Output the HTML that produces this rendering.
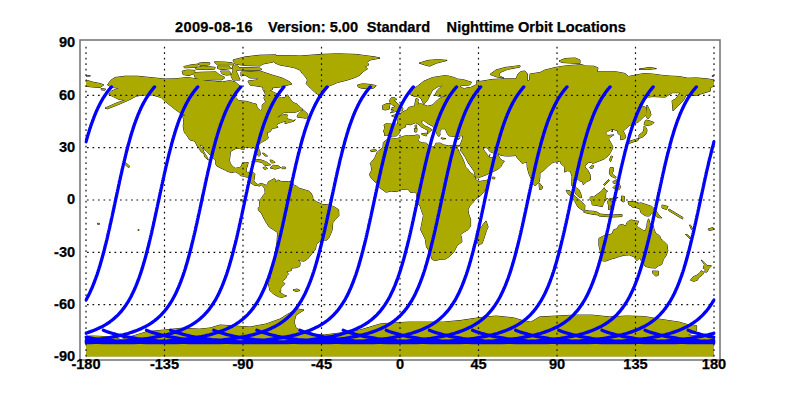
<!DOCTYPE html>
<html><head><meta charset="utf-8"><style>
html,body{margin:0;padding:0;background:#fff;width:800px;height:400px;overflow:hidden}
svg{display:block}
text{font-family:"Liberation Sans",sans-serif;font-weight:bold;font-size:14.6px;fill:#000;stroke:#000;stroke-width:0.25px}
</style></head><body>
<svg width="800" height="400" viewBox="0 0 800 400">
<defs><clipPath id="c"><rect x="84.5" y="43" width="631" height="314"/></clipPath><clipPath id="m"><rect x="86" y="43" width="628" height="313.6"/></clipPath></defs><rect x="0" y="0" width="800" height="400" fill="#fff"/><g clip-path="url(#c)">
<g fill="#aaaa00" clip-path="url(#m)"><path d="M107.5,85.0 L110.5,80.5 L115.0,77.5 L125.0,76.2 L137.5,76.2 L150.0,77.5 L165.0,79.0 L175.0,78.8 L187.5,77.5 L196.2,78.8 L205.0,80.6 L213.8,81.2 L222.5,81.9 L230.0,80.6 L235.0,81.9 L240.0,86.0 L237.5,90.0 L236.0,92.7 L235.7,97.4 L238.6,100.6 L246.5,101.4 L253.5,103.5 L256.4,104.1 L257.0,107.5 L260.4,110.7 L262.2,109.3 L262.2,104.9 L265.7,102.0 L263.9,98.0 L265.7,94.5 L263.9,91.3 L270.9,91.0 L275.3,93.1 L278.8,94.5 L278.8,97.1 L281.4,98.0 L284.9,97.4 L287.5,94.8 L290.1,98.8 L292.7,102.3 L297.1,104.1 L300.6,107.5 L302.8,109.3 L300.6,110.2 L295.3,112.4 L288.4,112.4 L284.0,112.4 L279.6,115.4 L277.0,118.0 L281.4,115.4 L286.6,114.2 L287.5,115.2 L286.6,117.1 L287.5,118.9 L291.8,120.1 L293.6,120.6 L295.3,119.8 L293.6,121.2 L289.2,122.4 L284.9,123.6 L285.7,121.0 L283.1,121.8 L280.5,122.7 L277.5,123.9 L276.7,125.5 L277.9,127.3 L274.4,128.1 L270.9,129.2 L270.9,131.1 L269.2,132.0 L267.4,132.3 L267.4,135.5 L268.3,138.1 L266.6,139.5 L263.9,141.0 L261.3,142.4 L258.7,144.2 L258.2,147.7 L259.6,150.6 L260.4,153.8 L259.6,156.0 L258.4,156.0 L257.3,153.8 L255.9,151.2 L255.6,149.1 L253.5,147.5 L251.2,148.2 L249.1,147.0 L245.6,147.1 L243.9,147.3 L244.2,149.4 L242.1,149.2 L239.5,148.4 L236.0,148.4 L233.4,149.8 L230.4,151.5 L230.1,155.0 L229.4,160.8 L230.4,163.7 L232.5,166.5 L235.2,168.3 L239.5,167.6 L241.6,166.0 L242.3,163.4 L245.6,162.5 L248.2,162.5 L247.4,166.0 L246.5,168.1 L246.0,171.2 L247.4,172.4 L252.6,172.3 L254.9,173.8 L254.3,178.2 L253.8,180.8 L255.2,182.9 L257.8,184.6 L261.3,183.4 L265.0,184.8 L266.6,185.5 L267.8,183.4 L268.3,181.7 L270.9,180.5 L274.4,178.5 L275.8,179.9 L275.3,182.6 L277.9,179.9 L281.4,181.7 L284.9,181.5 L288.4,181.7 L292.2,181.3 L293.6,185.0 L296.2,186.0 L298.8,188.1 L304.1,189.7 L309.3,191.3 L311.0,193.0 L312.8,196.9 L312.8,199.1 L316.3,201.7 L322.4,204.4 L328.5,204.9 L333.7,206.6 L338.6,209.6 L338.9,215.7 L335.5,219.2 L332.8,222.7 L332.0,230.5 L330.2,234.9 L328.5,238.4 L326.7,240.1 L323.2,240.1 L318.9,241.9 L316.3,244.5 L315.4,249.7 L312.8,252.3 L310.2,255.8 L307.5,259.0 L304.1,261.1 L301.4,260.9 L297.9,259.7 L300.2,262.8 L299.7,266.3 L296.2,267.7 L291.8,268.0 L291.3,270.6 L286.6,271.5 L288.4,274.1 L286.6,275.9 L285.7,278.5 L282.2,281.1 L284.9,283.7 L281.4,287.2 L280.5,289.0 L280.9,291.2 L278.8,291.6 L281.0,293.0 L284.0,295.1 L286.6,295.9 L282.2,297.3 L278.8,296.8 L275.3,295.1 L271.8,292.5 L270.0,290.7 L269.2,287.2 L268.3,283.7 L270.0,280.2 L270.9,275.9 L271.8,271.5 L271.8,265.4 L273.5,261.9 L274.9,257.6 L275.3,252.3 L276.1,247.1 L277.0,241.9 L277.5,234.9 L277.4,232.3 L273.5,229.7 L269.2,227.0 L266.9,223.6 L263.9,218.3 L261.3,213.1 L258.4,210.5 L258.2,207.8 L259.9,206.1 L259.6,201.7 L260.4,199.1 L262.2,197.4 L263.1,195.6 L265.2,193.0 L264.8,188.7 L263.4,186.9 L261.3,184.6 L259.6,186.0 L257.0,185.5 L254.3,185.2 L250.3,182.6 L250.3,180.3 L247.4,177.3 L244.7,176.4 L240.4,175.6 L237.8,173.0 L235.2,171.7 L231.7,172.6 L228.2,171.6 L225.6,170.3 L222.1,168.6 L216.8,166.0 L215.6,163.7 L216.0,160.8 L214.2,159.0 L211.6,156.4 L209.0,153.8 L206.4,150.8 L204.1,149.4 L202.9,145.9 L199.7,144.5 L201.1,147.3 L202.9,149.4 L203.8,152.0 L205.5,154.6 L207.2,157.3 L208.3,160.1 L207.2,159.0 L204.6,156.9 L204.1,153.8 L200.8,151.5 L199.4,148.5 L197.6,146.8 L195.9,143.3 L195.0,141.6 L193.3,140.7 L189.6,139.8 L188.1,137.2 L186.3,134.6 L184.6,132.8 L183.7,129.7 L183.2,125.9 L183.7,122.4 L183.7,119.8 L182.5,115.6 L184.6,115.7 L185.4,114.5 L185.0,115.0 L177.5,111.2 L171.2,106.2 L165.0,101.2 L161.2,97.5 L152.5,95.0 L142.5,95.0 L136.2,96.2 L128.8,100.0 L118.8,104.4 L107.5,108.8 L105.0,108.1 L116.2,103.1 L125.0,100.0 L118.8,99.4 L113.8,96.9 L108.8,94.4 L111.2,91.2 L118.8,88.1 L112.5,87.5Z M271.0,55.5 L292.5,55.6 L300.0,56.0 L321.2,54.4 L337.5,53.8 L356.2,54.4 L365.0,55.6 L375.0,56.9 L380.0,58.1 L370.0,60.0 L367.5,62.5 L368.8,65.0 L365.0,66.9 L367.5,68.8 L363.8,71.2 L360.0,75.0 L355.0,77.5 L347.5,80.0 L337.5,82.5 L328.8,86.2 L325.0,91.2 L320.0,95.5 L315.0,92.5 L310.0,87.5 L306.2,83.8 L307.5,80.0 L305.0,76.2 L302.5,73.8 L300.0,70.0 L293.8,67.5 L280.0,65.0 L275.0,63.0 L273.0,60.0Z M241.0,72.0 L244.0,72.0 L260.0,71.0 L272.0,75.0 L282.0,78.0 L290.0,82.0 L292.0,84.0 L286.0,85.5 L280.0,87.0 L270.0,88.0 L263.0,87.0 L250.0,85.0 L248.0,81.0 L256.0,80.0 L258.0,78.0 L250.0,78.0 L245.0,75.0 L241.0,76.0Z M233.0,60.0 L245.0,56.9 L260.0,55.2 L276.0,54.8 L276.0,60.0 L273.0,62.0 L263.0,64.0 L260.0,66.0 L245.0,65.5 L235.0,64.0Z M238.0,67.5 L244.0,67.5 L260.0,68.0 L262.0,69.5 L258.0,70.3 L245.0,70.3 L238.0,70.0Z M303.2,110.0 L307.5,113.7 L308.1,117.1 L305.8,118.4 L303.2,117.8 L297.1,117.0 L297.9,114.5 L300.6,111.9 L303.2,110.0Z M251.7,161.8 L256.1,159.5 L260.4,159.7 L265.7,161.6 L270.6,164.8 L264.8,165.5 L262.2,162.5 L257.8,161.6 L251.7,161.8Z M270.0,167.9 L273.2,165.3 L277.9,165.6 L280.7,167.6 L277.9,168.3 L275.3,169.1 L270.0,167.9Z M263.0,167.5 L266.0,167.0 L267.5,168.5 L264.5,169.4Z M357.5,85.0 L362.5,83.8 L370.0,84.4 L376.2,85.6 L373.8,88.1 L367.5,88.8 L361.2,88.1 L358.1,86.9Z M390.4,112.8 L394.8,111.7 L402.4,110.7 L403.0,108.1 L400.5,107.0 L399.1,104.9 L397.0,103.0 L393.9,100.0 L396.9,99.5 L394.8,97.8 L391.3,97.8 L389.5,100.6 L390.4,103.2 L391.6,104.4 L394.4,105.8 L394.8,107.0 L391.6,107.9 L393.0,109.3 L390.9,109.8 L394.2,110.3 L390.4,112.8Z M389.5,108.9 L389.5,106.1 L390.1,103.7 L386.9,103.5 L382.6,105.5 L382.6,109.3 L385.2,110.0 L389.5,108.9Z M390.2,137.2 L388.7,135.8 L386.9,135.1 L384.5,135.5 L384.6,132.5 L383.4,132.0 L384.6,128.5 L384.5,125.9 L383.8,125.0 L386.0,123.8 L391.3,124.1 L394.8,124.1 L397.4,124.3 L397.9,121.5 L397.9,119.8 L396.2,117.7 L391.6,115.9 L394.8,114.9 L397.4,115.0 L397.4,113.5 L400.3,113.7 L402.8,111.9 L405.2,110.7 L407.5,109.8 L408.4,107.5 L412.2,106.5 L414.8,106.1 L415.0,103.2 L416.0,98.5 L418.3,99.3 L417.8,102.0 L418.8,103.2 L417.1,104.4 L421.2,103.8 L427.5,106.2 L432.5,105.0 L435.0,102.5 L437.5,100.0 L440.0,98.1 L447.5,95.6 L438.8,96.2 L435.0,95.0 L437.5,90.0 L442.5,85.6 L438.8,86.2 L432.5,90.0 L430.0,95.0 L427.5,100.0 L423.8,104.4 L421.2,98.8 L418.8,96.9 L413.8,96.2 L410.0,94.4 L411.2,90.0 L417.5,86.2 L423.8,81.2 L432.5,77.5 L445.0,75.6 L448.8,76.1 L454.1,77.5 L457.6,79.1 L462.8,79.6 L471.5,82.2 L469.8,84.9 L460.2,85.7 L460.7,87.5 L464.5,88.7 L468.0,87.5 L470.6,87.5 L476.8,84.5 L476.8,80.5 L480.2,81.4 L492.5,79.4 L505.0,78.8 L516.0,78.8 L518.0,74.0 L521.0,71.5 L525.0,71.0 L527.5,74.0 L527.5,81.0 L529.5,80.0 L530.0,74.0 L540.0,72.5 L545.0,70.0 L550.0,68.8 L555.0,67.5 L567.5,65.6 L574.4,65.2 L581.9,64.5 L584.9,66.0 L593.6,66.2 L598.0,67.8 L597.1,71.8 L605.8,71.8 L616.3,71.8 L625.0,73.5 L628.5,76.5 L635.5,75.1 L644.2,73.5 L652.9,74.1 L661.7,75.3 L670.4,76.1 L679.1,76.5 L687.8,78.2 L696.6,77.9 L707.0,78.8 L714.0,80.0 L714.0,86.3 L710.5,87.3 L710.5,91.0 L701.8,93.6 L696.6,95.3 L686.1,95.3 L684.3,98.8 L682.6,101.4 L673.0,111.0 L672.1,100.6 L675.6,99.2 L680.0,92.7 L672.1,92.7 L665.2,97.1 L652.9,96.6 L647.7,97.1 L639.0,104.9 L646.0,107.5 L646.0,114.5 L644.2,116.3 L639.0,121.5 L632.0,125.0 L629.9,125.0 L625.9,128.5 L623.3,131.1 L625.7,136.3 L625.0,138.6 L620.7,139.8 L620.7,135.5 L618.1,133.7 L617.5,130.6 L612.8,129.3 L612.0,132.0 L612.5,128.8 L607.6,131.4 L605.3,132.8 L607.6,135.5 L613.7,134.9 L610.2,137.2 L608.5,138.9 L611.1,143.3 L612.6,146.3 L612.8,148.0 L610.2,152.9 L608.5,155.5 L604.1,159.0 L598.9,161.1 L592.8,163.4 L591.5,162.5 L588.4,162.5 L585.8,165.1 L584.9,166.9 L588.1,170.7 L590.1,174.7 L590.5,179.9 L586.7,181.7 L583.2,184.8 L582.8,182.0 L579.7,180.8 L575.8,177.7 L574.4,176.8 L573.0,181.7 L575.0,186.0 L576.2,188.1 L578.8,189.5 L580.5,193.0 L581.8,197.6 L580.0,197.7 L576.7,195.1 L575.3,193.0 L574.8,189.5 L571.8,185.7 L571.8,182.6 L572.0,176.4 L570.4,171.2 L567.5,170.7 L564.5,172.1 L564.9,166.9 L561.0,163.9 L560.1,160.8 L557.9,161.6 L554.4,162.0 L551.8,163.0 L548.3,166.0 L543.9,170.3 L539.9,173.0 L539.9,177.3 L539.2,182.0 L536.4,184.6 L535.2,186.0 L533.5,184.3 L531.7,179.9 L529.1,174.2 L527.3,167.7 L527.0,163.4 L526.5,162.0 L522.1,163.4 L520.0,160.8 L517.4,158.1 L516.0,155.5 L509.9,156.0 L504.7,155.9 L500.0,155.0 L498.6,152.9 L494.2,153.4 L489.8,151.5 L487.2,147.7 L484.6,147.7 L482.9,148.5 L484.6,151.2 L486.4,153.4 L487.6,155.5 L488.6,156.7 L489.8,154.6 L489.3,157.6 L494.2,157.8 L497.7,155.5 L498.2,154.1 L499.4,158.1 L502.9,160.8 L504.3,161.1 L502.1,164.2 L500.7,166.9 L498.6,168.6 L495.9,170.3 L491.1,172.4 L485.5,175.1 L478.5,177.7 L475.9,178.0 L474.7,173.8 L474.1,171.2 L469.8,165.1 L468.0,162.5 L465.4,157.3 L461.9,152.0 L460.2,150.6 L460.9,148.5 L459.7,145.4 L456.3,145.4 L456.7,147.7 L460.2,144.9 L461.1,142.4 L462.5,138.9 L462.8,135.8 L460.2,135.8 L456.7,137.0 L453.2,136.3 L448.8,135.8 L447.4,133.7 L446.2,131.1 L445.7,129.2 L445.4,128.8 L441.9,128.8 L440.1,130.2 L439.8,132.8 L440.1,134.6 L439.2,136.3 L437.9,135.8 L437.0,134.1 L435.8,131.1 L434.0,128.5 L433.1,126.4 L428.8,124.1 L426.2,122.4 L423.9,120.5 L421.5,121.0 L421.8,123.2 L424.4,125.9 L427.9,127.1 L432.3,129.9 L429.7,131.4 L428.8,132.8 L427.4,133.7 L427.6,130.2 L424.4,128.5 L420.9,126.7 L418.3,124.1 L415.7,122.7 L413.1,123.6 L410.5,124.8 L407.9,124.3 L405.2,125.0 L405.6,126.9 L401.4,128.5 L400.0,131.1 L399.1,133.2 L396.5,136.0 L392.1,136.0 L390.2,137.2Z M86.0,80.0 L93.0,82.2 L100.0,83.5 L103.8,84.9 L100.0,87.5 L93.0,87.0 L86.0,86.3Z M389.7,137.5 L383.4,142.4 L382.9,147.7 L377.3,152.0 L374.7,158.1 L370.3,163.4 L371.2,166.0 L371.7,170.3 L369.5,174.4 L370.7,177.3 L373.0,179.9 L376.4,183.4 L379.9,187.8 L386.0,192.2 L391.3,191.1 L396.5,191.6 L401.7,189.5 L407.9,189.0 L410.5,192.5 L414.8,192.0 L416.6,193.9 L417.1,198.3 L415.7,201.7 L420.1,206.1 L421.5,210.5 L423.4,215.7 L421.8,223.6 L420.6,229.7 L425.3,239.2 L426.5,247.1 L429.7,251.5 L432.1,259.3 L434.9,260.7 L440.1,259.3 L445.4,259.0 L449.7,256.3 L454.1,251.5 L457.2,245.4 L461.9,241.9 L461.6,238.4 L460.5,234.5 L463.7,232.3 L468.0,229.7 L470.6,226.2 L470.6,219.2 L468.6,214.0 L468.0,209.6 L470.1,205.2 L472.6,203.0 L475.9,198.6 L480.2,196.0 L483.7,192.2 L487.2,186.0 L489.5,179.4 L486.4,180.3 L478.5,181.7 L475.5,179.4 L475.0,177.3 L473.3,174.7 L469.8,172.1 L468.0,169.5 L465.4,166.9 L464.5,163.4 L462.8,159.0 L461.1,155.5 L459.3,152.4 L457.6,148.5 L456.7,147.7 L456.3,145.4 L452.3,145.6 L448.8,145.9 L443.6,144.9 L440.1,143.1 L435.8,143.3 L434.9,145.9 L433.1,147.1 L427.9,145.4 L426.7,143.3 L422.7,142.8 L419.2,141.9 L417.8,139.8 L419.2,138.1 L419.2,135.5 L417.1,134.9 L414.0,135.6 L408.7,135.8 L405.2,135.8 L400.0,137.5 L396.5,138.8 L391.3,138.1 L389.7,137.5Z M486.0,220.9 L488.1,227.0 L486.4,230.5 L483.7,239.2 L482.0,243.6 L478.5,244.5 L476.2,240.1 L476.8,234.9 L477.6,228.8 L481.1,227.6 L483.7,223.6 L486.0,220.9Z M539.2,182.9 L542.7,186.9 L541.8,189.2 L539.6,189.5 L539.2,186.0 L539.2,182.9Z M644.0,126.0 L646.0,127.5 L647.0,130.0 L646.5,133.0 L645.0,135.0 L642.5,137.0 L640.0,138.0 L635.0,139.5 L630.0,141.0 L628.5,142.5 L629.0,143.5 L633.0,142.0 L638.0,140.5 L639.0,137.5 L639.0,135.0 L641.0,133.5 L643.0,132.0 L644.0,129.0Z M645.0,121.5 L646.0,120.0 L650.0,121.0 L654.0,122.5 L652.0,124.5 L647.0,125.5 L644.0,124.5Z M647.0,105.0 L648.5,108.0 L650.0,111.0 L651.0,115.0 L648.0,119.0 L646.5,117.0 L646.0,115.0 L646.5,109.0Z M610.6,161.6 L612.6,156.4 L611.1,156.0 L609.5,159.9 L610.6,161.6Z M589.6,167.7 L591.9,165.1 L593.6,165.6 L592.8,168.1 L591.0,168.3 L589.6,167.7Z M610.2,167.7 L613.3,167.7 L613.2,171.2 L612.0,173.8 L616.3,177.3 L615.4,178.2 L610.7,175.9 L609.3,173.0 L610.2,167.7Z M612.8,187.8 L615.4,185.2 L618.9,183.1 L620.7,187.3 L618.9,189.9 L616.3,188.7 L612.8,187.8Z M612.8,181.7 L616.3,179.9 L619.3,180.8 L618.1,182.6 L615.4,183.4 L613.7,183.4 L612.8,181.7Z M566.2,190.2 L570.1,190.9 L575.3,196.5 L580.5,200.9 L584.9,205.2 L584.6,210.1 L582.3,210.1 L577.9,207.0 L575.0,201.7 L571.8,197.0 L567.5,193.4 L566.2,190.2Z M583.5,211.9 L585.8,210.5 L589.3,211.0 L593.6,211.3 L596.8,212.0 L599.7,213.6 L599.7,215.2 L591.9,214.1 L586.7,213.1 L583.5,211.9Z M590.1,197.4 L591.4,196.5 L593.6,197.0 L597.1,194.4 L601.5,191.3 L604.1,187.8 L605.0,189.5 L607.6,191.3 L605.8,192.2 L605.5,198.3 L607.6,198.6 L605.0,200.9 L603.2,203.5 L602.4,206.6 L599.7,206.1 L597.1,205.6 L594.5,205.2 L592.2,204.9 L591.9,201.7 L590.1,200.0 L590.1,197.4Z M608.5,209.6 L610.2,209.6 L610.2,205.2 L612.0,207.8 L613.7,209.2 L612.8,205.2 L614.9,201.4 L611.1,201.7 L610.6,199.1 L614.6,199.1 L618.1,197.4 L612.8,198.3 L609.3,198.6 L607.6,201.7 L608.5,205.2 L608.5,209.6Z M628.5,202.6 L633.8,201.4 L637.2,203.8 L640.7,202.8 L646.0,204.5 L652.1,206.6 L655.6,210.5 L658.2,214.0 L661.7,218.0 L657.3,217.4 L654.7,214.8 L651.2,213.4 L649.5,216.0 L646.0,215.9 L642.5,214.1 L640.7,212.2 L639.9,208.7 L635.5,207.5 L632.0,207.0 L630.3,204.9 L628.5,202.6Z M598.9,238.4 L598.9,245.4 L600.6,252.3 L600.6,258.4 L601.5,260.7 L605.8,261.1 L611.1,259.0 L616.3,257.6 L619.8,256.3 L625.0,255.1 L629.4,254.9 L633.8,256.7 L636.9,260.7 L639.9,257.6 L640.7,260.2 L643.4,262.5 L645.1,266.3 L650.3,267.7 L655.6,268.0 L658.2,265.9 L661.7,264.5 L663.4,259.3 L666.0,255.8 L667.8,250.6 L666.9,244.5 L663.4,241.0 L660.8,238.9 L659.6,235.8 L655.6,233.1 L653.8,228.8 L653.5,225.8 L650.3,224.4 L648.6,218.8 L647.4,221.8 L646.8,226.2 L645.6,230.5 L643.4,230.5 L638.6,227.6 L636.4,226.2 L638.6,221.3 L635.5,220.9 L631.1,219.9 L628.5,221.3 L626.8,222.7 L625.9,226.2 L622.4,224.4 L618.9,225.3 L617.2,228.8 L613.7,229.7 L612.0,234.0 L607.6,234.9 L603.2,236.1 L598.9,238.4Z M652.4,271.0 L658.7,271.3 L658.2,275.4 L655.6,276.1 L652.9,273.3 L652.4,271.0Z M701.3,260.0 L704.4,262.8 L707.0,265.4 L711.4,265.8 L708.8,268.6 L707.0,272.0 L704.9,272.0 L705.3,268.9 L703.2,268.4 L704.4,264.5 L701.3,260.0Z M701.3,270.6 L704.1,272.4 L702.3,275.0 L698.6,277.6 L697.4,280.2 L693.9,281.3 L690.5,280.2 L693.1,276.8 L697.4,275.0 L700.0,272.4 L701.3,270.6Z M419.2,63.1 L427.9,60.4 L438.4,59.6 L447.1,60.4 L436.6,63.1 L429.7,66.2 L424.4,64.8 L419.2,63.1Z M490.0,74.4 L496.0,70.0 L505.0,67.5 L520.0,65.6 L520.0,67.0 L507.5,69.4 L500.0,72.5 L498.8,75.6 L503.8,78.0 L497.0,77.0Z M559.0,61.0 L565.0,58.5 L575.0,58.0 L580.0,60.0 L580.0,63.5 L570.0,63.0 L562.0,62.5Z M639.0,69.2 L647.7,69.5 L656.4,68.6 L649.5,67.4 L639.0,69.2Z M86.0,75.3 L90.4,75.8 L87.7,76.3 L86.0,76.1Z M711.9,76.1 L714.0,75.3 L714.0,76.1 L711.9,76.1Z M414.3,128.5 L417.1,128.5 L416.6,132.0 L414.8,132.0 L414.3,128.5Z M415.0,125.3 L416.6,125.0 L416.6,127.8 L415.2,127.3 L415.0,125.3Z M421.6,133.7 L427.2,133.2 L426.3,136.0 L421.6,134.4 L421.6,133.7Z M441.0,137.9 L445.9,138.6 L442.7,139.1 L441.0,138.4 L441.0,137.9Z M456.3,138.9 L460.2,137.9 L458.4,139.5 L456.3,139.5 L456.3,138.9Z M86.0,336.1 L94.7,336.1 L112.2,336.9 L120.9,339.6 L138.3,334.3 L147.1,331.7 L164.5,330.0 L181.9,328.2 L199.4,329.1 L210.0,328.0 L220.0,325.0 L250.0,327.0 L266.0,324.0 L280.0,319.0 L288.0,314.0 L298.0,309.0 L304.0,310.0 L296.0,315.0 L294.0,322.0 L296.0,328.0 L304.0,332.0 L312.0,334.0 L324.0,335.0 L340.0,333.0 L360.0,330.0 L380.0,324.0 L391.3,323.0 L408.7,322.1 L426.2,322.1 L443.6,322.1 L461.1,320.4 L478.5,317.8 L495.9,316.0 L513.4,317.8 L522.1,320.4 L530.8,322.1 L539.6,316.9 L557.0,316.0 L574.4,315.1 L591.9,315.1 L609.3,316.9 L626.8,316.0 L644.2,316.5 L661.7,319.5 L679.1,322.1 L687.8,324.7 L696.6,325.6 L696.6,330.8 L687.8,335.2 L705.3,336.1 L714.0,336.1 L714.0,357.0 L86.0,357.0Z M263.0,86.5 L270.0,86.0 L273.0,89.0 L268.0,92.0 L263.0,90.0Z M599.0,214.0 L605.0,214.5 L612.0,215.0 L622.0,214.5 L622.0,216.5 L612.0,217.0 L605.0,216.5 L599.0,216.0Z M621.5,196.0 L624.5,196.5 L624.0,202.0 L621.5,201.0Z M628.0,201.5 L638.0,202.5 L637.0,205.5 L629.0,205.0Z M662.0,205.0 L668.0,206.5 L666.5,209.5 L662.0,208.0Z M669.0,209.0 L683.0,217.5 L682.5,219.0 L668.5,210.5Z M603.5,184.5 L608.5,179.5 L609.5,180.5 L604.5,185.5Z M262.5,153.0 L264.5,153.5 L267.5,156.0 L265.0,156.0Z M270.0,160.0 L273.0,160.5 L275.0,162.5 L271.5,163.0Z M282.0,167.0 L285.6,167.2 L285.4,168.6 L282.0,168.7Z M183.8,66.6 L191.2,64.8 L198.8,64.0 L197.0,66.5 L195.0,67.4 L184.5,67.8Z M198.8,63.2 L204.0,62.5 L210.0,62.9 L209.2,64.8 L204.0,65.5 L199.5,65.1Z M195.0,67.8 L202.5,66.2 L208.5,66.6 L215.2,67.4 L214.5,69.2 L206.2,69.6 L195.8,69.2Z M214.5,61.8 L225.0,62.1 L232.5,62.9 L234.0,64.8 L226.5,64.8 L217.5,64.8 L215.2,63.2Z M217.5,66.2 L228.8,66.2 L231.8,68.5 L222.0,69.6 L217.5,68.5Z M182.2,71.1 L187.5,70.0 L195.0,70.4 L194.2,73.4 L189.0,75.6 L183.0,74.5Z M193.5,72.6 L202.5,72.2 L216.0,71.9 L219.0,74.5 L225.0,77.5 L222.0,79.8 L211.5,79.8 L201.0,80.5 L195.0,77.5Z M220.5,71.1 L229.5,71.1 L231.0,74.5 L226.5,75.2 L222.0,73.8Z M232.5,66.0 L238.0,66.0 L240.0,69.0 L236.0,71.0 L238.0,75.0 L240.0,80.0 L233.0,80.0 L231.0,76.0 L233.0,71.0Z M124.0,162.5 L126.0,163.0 L130.0,166.5 L128.5,167.5 L125.0,164.5Z M685.5,234.5 L687.0,234.5 L691.0,238.0 L690.0,239.0Z M689.5,225.0 L690.5,225.0 L692.5,229.0 L691.5,229.5Z M708.0,229.0 L713.0,227.5 L714.0,229.5 L709.0,230.5Z M492.5,177.0 L495.0,177.5 L494.5,179.0 L492.0,178.5Z M293.0,290.0 L297.0,289.0 L300.0,290.5 L296.0,291.5Z M97.5,223.2 L99.5,223.5 L99.5,224.3 L97.5,224.2Z M138.0,229.5 L139.0,229.5 L139.0,230.5 L138.0,230.5Z M240.5,199.5 L241.8,199.5 L241.8,200.8 L240.5,200.8Z M370.5,150.3 L376.0,149.6 L376.5,150.8 L371.0,151.6Z M101.0,88.5 L105.5,89.0 L105.0,90.2 L101.5,90.0Z" fill="none" stroke="#000" stroke-width="0.9"/><g stroke="none"><path d="M107.5,85.0 L110.5,80.5 L115.0,77.5 L125.0,76.2 L137.5,76.2 L150.0,77.5 L165.0,79.0 L175.0,78.8 L187.5,77.5 L196.2,78.8 L205.0,80.6 L213.8,81.2 L222.5,81.9 L230.0,80.6 L235.0,81.9 L240.0,86.0 L237.5,90.0 L236.0,92.7 L235.7,97.4 L238.6,100.6 L246.5,101.4 L253.5,103.5 L256.4,104.1 L257.0,107.5 L260.4,110.7 L262.2,109.3 L262.2,104.9 L265.7,102.0 L263.9,98.0 L265.7,94.5 L263.9,91.3 L270.9,91.0 L275.3,93.1 L278.8,94.5 L278.8,97.1 L281.4,98.0 L284.9,97.4 L287.5,94.8 L290.1,98.8 L292.7,102.3 L297.1,104.1 L300.6,107.5 L302.8,109.3 L300.6,110.2 L295.3,112.4 L288.4,112.4 L284.0,112.4 L279.6,115.4 L277.0,118.0 L281.4,115.4 L286.6,114.2 L287.5,115.2 L286.6,117.1 L287.5,118.9 L291.8,120.1 L293.6,120.6 L295.3,119.8 L293.6,121.2 L289.2,122.4 L284.9,123.6 L285.7,121.0 L283.1,121.8 L280.5,122.7 L277.5,123.9 L276.7,125.5 L277.9,127.3 L274.4,128.1 L270.9,129.2 L270.9,131.1 L269.2,132.0 L267.4,132.3 L267.4,135.5 L268.3,138.1 L266.6,139.5 L263.9,141.0 L261.3,142.4 L258.7,144.2 L258.2,147.7 L259.6,150.6 L260.4,153.8 L259.6,156.0 L258.4,156.0 L257.3,153.8 L255.9,151.2 L255.6,149.1 L253.5,147.5 L251.2,148.2 L249.1,147.0 L245.6,147.1 L243.9,147.3 L244.2,149.4 L242.1,149.2 L239.5,148.4 L236.0,148.4 L233.4,149.8 L230.4,151.5 L230.1,155.0 L229.4,160.8 L230.4,163.7 L232.5,166.5 L235.2,168.3 L239.5,167.6 L241.6,166.0 L242.3,163.4 L245.6,162.5 L248.2,162.5 L247.4,166.0 L246.5,168.1 L246.0,171.2 L247.4,172.4 L252.6,172.3 L254.9,173.8 L254.3,178.2 L253.8,180.8 L255.2,182.9 L257.8,184.6 L261.3,183.4 L265.0,184.8 L266.6,185.5 L267.8,183.4 L268.3,181.7 L270.9,180.5 L274.4,178.5 L275.8,179.9 L275.3,182.6 L277.9,179.9 L281.4,181.7 L284.9,181.5 L288.4,181.7 L292.2,181.3 L293.6,185.0 L296.2,186.0 L298.8,188.1 L304.1,189.7 L309.3,191.3 L311.0,193.0 L312.8,196.9 L312.8,199.1 L316.3,201.7 L322.4,204.4 L328.5,204.9 L333.7,206.6 L338.6,209.6 L338.9,215.7 L335.5,219.2 L332.8,222.7 L332.0,230.5 L330.2,234.9 L328.5,238.4 L326.7,240.1 L323.2,240.1 L318.9,241.9 L316.3,244.5 L315.4,249.7 L312.8,252.3 L310.2,255.8 L307.5,259.0 L304.1,261.1 L301.4,260.9 L297.9,259.7 L300.2,262.8 L299.7,266.3 L296.2,267.7 L291.8,268.0 L291.3,270.6 L286.6,271.5 L288.4,274.1 L286.6,275.9 L285.7,278.5 L282.2,281.1 L284.9,283.7 L281.4,287.2 L280.5,289.0 L280.9,291.2 L278.8,291.6 L281.0,293.0 L284.0,295.1 L286.6,295.9 L282.2,297.3 L278.8,296.8 L275.3,295.1 L271.8,292.5 L270.0,290.7 L269.2,287.2 L268.3,283.7 L270.0,280.2 L270.9,275.9 L271.8,271.5 L271.8,265.4 L273.5,261.9 L274.9,257.6 L275.3,252.3 L276.1,247.1 L277.0,241.9 L277.5,234.9 L277.4,232.3 L273.5,229.7 L269.2,227.0 L266.9,223.6 L263.9,218.3 L261.3,213.1 L258.4,210.5 L258.2,207.8 L259.9,206.1 L259.6,201.7 L260.4,199.1 L262.2,197.4 L263.1,195.6 L265.2,193.0 L264.8,188.7 L263.4,186.9 L261.3,184.6 L259.6,186.0 L257.0,185.5 L254.3,185.2 L250.3,182.6 L250.3,180.3 L247.4,177.3 L244.7,176.4 L240.4,175.6 L237.8,173.0 L235.2,171.7 L231.7,172.6 L228.2,171.6 L225.6,170.3 L222.1,168.6 L216.8,166.0 L215.6,163.7 L216.0,160.8 L214.2,159.0 L211.6,156.4 L209.0,153.8 L206.4,150.8 L204.1,149.4 L202.9,145.9 L199.7,144.5 L201.1,147.3 L202.9,149.4 L203.8,152.0 L205.5,154.6 L207.2,157.3 L208.3,160.1 L207.2,159.0 L204.6,156.9 L204.1,153.8 L200.8,151.5 L199.4,148.5 L197.6,146.8 L195.9,143.3 L195.0,141.6 L193.3,140.7 L189.6,139.8 L188.1,137.2 L186.3,134.6 L184.6,132.8 L183.7,129.7 L183.2,125.9 L183.7,122.4 L183.7,119.8 L182.5,115.6 L184.6,115.7 L185.4,114.5 L185.0,115.0 L177.5,111.2 L171.2,106.2 L165.0,101.2 L161.2,97.5 L152.5,95.0 L142.5,95.0 L136.2,96.2 L128.8,100.0 L118.8,104.4 L107.5,108.8 L105.0,108.1 L116.2,103.1 L125.0,100.0 L118.8,99.4 L113.8,96.9 L108.8,94.4 L111.2,91.2 L118.8,88.1 L112.5,87.5Z"/><path d="M271.0,55.5 L292.5,55.6 L300.0,56.0 L321.2,54.4 L337.5,53.8 L356.2,54.4 L365.0,55.6 L375.0,56.9 L380.0,58.1 L370.0,60.0 L367.5,62.5 L368.8,65.0 L365.0,66.9 L367.5,68.8 L363.8,71.2 L360.0,75.0 L355.0,77.5 L347.5,80.0 L337.5,82.5 L328.8,86.2 L325.0,91.2 L320.0,95.5 L315.0,92.5 L310.0,87.5 L306.2,83.8 L307.5,80.0 L305.0,76.2 L302.5,73.8 L300.0,70.0 L293.8,67.5 L280.0,65.0 L275.0,63.0 L273.0,60.0Z"/><path d="M241.0,72.0 L244.0,72.0 L260.0,71.0 L272.0,75.0 L282.0,78.0 L290.0,82.0 L292.0,84.0 L286.0,85.5 L280.0,87.0 L270.0,88.0 L263.0,87.0 L250.0,85.0 L248.0,81.0 L256.0,80.0 L258.0,78.0 L250.0,78.0 L245.0,75.0 L241.0,76.0Z"/><path d="M233.0,60.0 L245.0,56.9 L260.0,55.2 L276.0,54.8 L276.0,60.0 L273.0,62.0 L263.0,64.0 L260.0,66.0 L245.0,65.5 L235.0,64.0Z"/><path d="M238.0,67.5 L244.0,67.5 L260.0,68.0 L262.0,69.5 L258.0,70.3 L245.0,70.3 L238.0,70.0Z"/><path d="M303.2,110.0 L307.5,113.7 L308.1,117.1 L305.8,118.4 L303.2,117.8 L297.1,117.0 L297.9,114.5 L300.6,111.9 L303.2,110.0Z"/><path d="M251.7,161.8 L256.1,159.5 L260.4,159.7 L265.7,161.6 L270.6,164.8 L264.8,165.5 L262.2,162.5 L257.8,161.6 L251.7,161.8Z"/><path d="M270.0,167.9 L273.2,165.3 L277.9,165.6 L280.7,167.6 L277.9,168.3 L275.3,169.1 L270.0,167.9Z"/><path d="M263.0,167.5 L266.0,167.0 L267.5,168.5 L264.5,169.4Z"/><path d="M357.5,85.0 L362.5,83.8 L370.0,84.4 L376.2,85.6 L373.8,88.1 L367.5,88.8 L361.2,88.1 L358.1,86.9Z"/><path d="M390.4,112.8 L394.8,111.7 L402.4,110.7 L403.0,108.1 L400.5,107.0 L399.1,104.9 L397.0,103.0 L393.9,100.0 L396.9,99.5 L394.8,97.8 L391.3,97.8 L389.5,100.6 L390.4,103.2 L391.6,104.4 L394.4,105.8 L394.8,107.0 L391.6,107.9 L393.0,109.3 L390.9,109.8 L394.2,110.3 L390.4,112.8Z"/><path d="M389.5,108.9 L389.5,106.1 L390.1,103.7 L386.9,103.5 L382.6,105.5 L382.6,109.3 L385.2,110.0 L389.5,108.9Z"/><path d="M390.2,137.2 L388.7,135.8 L386.9,135.1 L384.5,135.5 L384.6,132.5 L383.4,132.0 L384.6,128.5 L384.5,125.9 L383.8,125.0 L386.0,123.8 L391.3,124.1 L394.8,124.1 L397.4,124.3 L397.9,121.5 L397.9,119.8 L396.2,117.7 L391.6,115.9 L394.8,114.9 L397.4,115.0 L397.4,113.5 L400.3,113.7 L402.8,111.9 L405.2,110.7 L407.5,109.8 L408.4,107.5 L412.2,106.5 L414.8,106.1 L415.0,103.2 L416.0,98.5 L418.3,99.3 L417.8,102.0 L418.8,103.2 L417.1,104.4 L421.2,103.8 L427.5,106.2 L432.5,105.0 L435.0,102.5 L437.5,100.0 L440.0,98.1 L447.5,95.6 L438.8,96.2 L435.0,95.0 L437.5,90.0 L442.5,85.6 L438.8,86.2 L432.5,90.0 L430.0,95.0 L427.5,100.0 L423.8,104.4 L421.2,98.8 L418.8,96.9 L413.8,96.2 L410.0,94.4 L411.2,90.0 L417.5,86.2 L423.8,81.2 L432.5,77.5 L445.0,75.6 L448.8,76.1 L454.1,77.5 L457.6,79.1 L462.8,79.6 L471.5,82.2 L469.8,84.9 L460.2,85.7 L460.7,87.5 L464.5,88.7 L468.0,87.5 L470.6,87.5 L476.8,84.5 L476.8,80.5 L480.2,81.4 L492.5,79.4 L505.0,78.8 L516.0,78.8 L518.0,74.0 L521.0,71.5 L525.0,71.0 L527.5,74.0 L527.5,81.0 L529.5,80.0 L530.0,74.0 L540.0,72.5 L545.0,70.0 L550.0,68.8 L555.0,67.5 L567.5,65.6 L574.4,65.2 L581.9,64.5 L584.9,66.0 L593.6,66.2 L598.0,67.8 L597.1,71.8 L605.8,71.8 L616.3,71.8 L625.0,73.5 L628.5,76.5 L635.5,75.1 L644.2,73.5 L652.9,74.1 L661.7,75.3 L670.4,76.1 L679.1,76.5 L687.8,78.2 L696.6,77.9 L707.0,78.8 L714.0,80.0 L714.0,86.3 L710.5,87.3 L710.5,91.0 L701.8,93.6 L696.6,95.3 L686.1,95.3 L684.3,98.8 L682.6,101.4 L673.0,111.0 L672.1,100.6 L675.6,99.2 L680.0,92.7 L672.1,92.7 L665.2,97.1 L652.9,96.6 L647.7,97.1 L639.0,104.9 L646.0,107.5 L646.0,114.5 L644.2,116.3 L639.0,121.5 L632.0,125.0 L629.9,125.0 L625.9,128.5 L623.3,131.1 L625.7,136.3 L625.0,138.6 L620.7,139.8 L620.7,135.5 L618.1,133.7 L617.5,130.6 L612.8,129.3 L612.0,132.0 L612.5,128.8 L607.6,131.4 L605.3,132.8 L607.6,135.5 L613.7,134.9 L610.2,137.2 L608.5,138.9 L611.1,143.3 L612.6,146.3 L612.8,148.0 L610.2,152.9 L608.5,155.5 L604.1,159.0 L598.9,161.1 L592.8,163.4 L591.5,162.5 L588.4,162.5 L585.8,165.1 L584.9,166.9 L588.1,170.7 L590.1,174.7 L590.5,179.9 L586.7,181.7 L583.2,184.8 L582.8,182.0 L579.7,180.8 L575.8,177.7 L574.4,176.8 L573.0,181.7 L575.0,186.0 L576.2,188.1 L578.8,189.5 L580.5,193.0 L581.8,197.6 L580.0,197.7 L576.7,195.1 L575.3,193.0 L574.8,189.5 L571.8,185.7 L571.8,182.6 L572.0,176.4 L570.4,171.2 L567.5,170.7 L564.5,172.1 L564.9,166.9 L561.0,163.9 L560.1,160.8 L557.9,161.6 L554.4,162.0 L551.8,163.0 L548.3,166.0 L543.9,170.3 L539.9,173.0 L539.9,177.3 L539.2,182.0 L536.4,184.6 L535.2,186.0 L533.5,184.3 L531.7,179.9 L529.1,174.2 L527.3,167.7 L527.0,163.4 L526.5,162.0 L522.1,163.4 L520.0,160.8 L517.4,158.1 L516.0,155.5 L509.9,156.0 L504.7,155.9 L500.0,155.0 L498.6,152.9 L494.2,153.4 L489.8,151.5 L487.2,147.7 L484.6,147.7 L482.9,148.5 L484.6,151.2 L486.4,153.4 L487.6,155.5 L488.6,156.7 L489.8,154.6 L489.3,157.6 L494.2,157.8 L497.7,155.5 L498.2,154.1 L499.4,158.1 L502.9,160.8 L504.3,161.1 L502.1,164.2 L500.7,166.9 L498.6,168.6 L495.9,170.3 L491.1,172.4 L485.5,175.1 L478.5,177.7 L475.9,178.0 L474.7,173.8 L474.1,171.2 L469.8,165.1 L468.0,162.5 L465.4,157.3 L461.9,152.0 L460.2,150.6 L460.9,148.5 L459.7,145.4 L456.3,145.4 L456.7,147.7 L460.2,144.9 L461.1,142.4 L462.5,138.9 L462.8,135.8 L460.2,135.8 L456.7,137.0 L453.2,136.3 L448.8,135.8 L447.4,133.7 L446.2,131.1 L445.7,129.2 L445.4,128.8 L441.9,128.8 L440.1,130.2 L439.8,132.8 L440.1,134.6 L439.2,136.3 L437.9,135.8 L437.0,134.1 L435.8,131.1 L434.0,128.5 L433.1,126.4 L428.8,124.1 L426.2,122.4 L423.9,120.5 L421.5,121.0 L421.8,123.2 L424.4,125.9 L427.9,127.1 L432.3,129.9 L429.7,131.4 L428.8,132.8 L427.4,133.7 L427.6,130.2 L424.4,128.5 L420.9,126.7 L418.3,124.1 L415.7,122.7 L413.1,123.6 L410.5,124.8 L407.9,124.3 L405.2,125.0 L405.6,126.9 L401.4,128.5 L400.0,131.1 L399.1,133.2 L396.5,136.0 L392.1,136.0 L390.2,137.2Z"/><path d="M86.0,80.0 L93.0,82.2 L100.0,83.5 L103.8,84.9 L100.0,87.5 L93.0,87.0 L86.0,86.3Z"/><path d="M389.7,137.5 L383.4,142.4 L382.9,147.7 L377.3,152.0 L374.7,158.1 L370.3,163.4 L371.2,166.0 L371.7,170.3 L369.5,174.4 L370.7,177.3 L373.0,179.9 L376.4,183.4 L379.9,187.8 L386.0,192.2 L391.3,191.1 L396.5,191.6 L401.7,189.5 L407.9,189.0 L410.5,192.5 L414.8,192.0 L416.6,193.9 L417.1,198.3 L415.7,201.7 L420.1,206.1 L421.5,210.5 L423.4,215.7 L421.8,223.6 L420.6,229.7 L425.3,239.2 L426.5,247.1 L429.7,251.5 L432.1,259.3 L434.9,260.7 L440.1,259.3 L445.4,259.0 L449.7,256.3 L454.1,251.5 L457.2,245.4 L461.9,241.9 L461.6,238.4 L460.5,234.5 L463.7,232.3 L468.0,229.7 L470.6,226.2 L470.6,219.2 L468.6,214.0 L468.0,209.6 L470.1,205.2 L472.6,203.0 L475.9,198.6 L480.2,196.0 L483.7,192.2 L487.2,186.0 L489.5,179.4 L486.4,180.3 L478.5,181.7 L475.5,179.4 L475.0,177.3 L473.3,174.7 L469.8,172.1 L468.0,169.5 L465.4,166.9 L464.5,163.4 L462.8,159.0 L461.1,155.5 L459.3,152.4 L457.6,148.5 L456.7,147.7 L456.3,145.4 L452.3,145.6 L448.8,145.9 L443.6,144.9 L440.1,143.1 L435.8,143.3 L434.9,145.9 L433.1,147.1 L427.9,145.4 L426.7,143.3 L422.7,142.8 L419.2,141.9 L417.8,139.8 L419.2,138.1 L419.2,135.5 L417.1,134.9 L414.0,135.6 L408.7,135.8 L405.2,135.8 L400.0,137.5 L396.5,138.8 L391.3,138.1 L389.7,137.5Z"/><path d="M486.0,220.9 L488.1,227.0 L486.4,230.5 L483.7,239.2 L482.0,243.6 L478.5,244.5 L476.2,240.1 L476.8,234.9 L477.6,228.8 L481.1,227.6 L483.7,223.6 L486.0,220.9Z"/><path d="M539.2,182.9 L542.7,186.9 L541.8,189.2 L539.6,189.5 L539.2,186.0 L539.2,182.9Z"/><path d="M644.0,126.0 L646.0,127.5 L647.0,130.0 L646.5,133.0 L645.0,135.0 L642.5,137.0 L640.0,138.0 L635.0,139.5 L630.0,141.0 L628.5,142.5 L629.0,143.5 L633.0,142.0 L638.0,140.5 L639.0,137.5 L639.0,135.0 L641.0,133.5 L643.0,132.0 L644.0,129.0Z"/><path d="M645.0,121.5 L646.0,120.0 L650.0,121.0 L654.0,122.5 L652.0,124.5 L647.0,125.5 L644.0,124.5Z"/><path d="M647.0,105.0 L648.5,108.0 L650.0,111.0 L651.0,115.0 L648.0,119.0 L646.5,117.0 L646.0,115.0 L646.5,109.0Z"/><path d="M610.6,161.6 L612.6,156.4 L611.1,156.0 L609.5,159.9 L610.6,161.6Z"/><path d="M589.6,167.7 L591.9,165.1 L593.6,165.6 L592.8,168.1 L591.0,168.3 L589.6,167.7Z"/><path d="M610.2,167.7 L613.3,167.7 L613.2,171.2 L612.0,173.8 L616.3,177.3 L615.4,178.2 L610.7,175.9 L609.3,173.0 L610.2,167.7Z"/><path d="M612.8,187.8 L615.4,185.2 L618.9,183.1 L620.7,187.3 L618.9,189.9 L616.3,188.7 L612.8,187.8Z"/><path d="M612.8,181.7 L616.3,179.9 L619.3,180.8 L618.1,182.6 L615.4,183.4 L613.7,183.4 L612.8,181.7Z"/><path d="M566.2,190.2 L570.1,190.9 L575.3,196.5 L580.5,200.9 L584.9,205.2 L584.6,210.1 L582.3,210.1 L577.9,207.0 L575.0,201.7 L571.8,197.0 L567.5,193.4 L566.2,190.2Z"/><path d="M583.5,211.9 L585.8,210.5 L589.3,211.0 L593.6,211.3 L596.8,212.0 L599.7,213.6 L599.7,215.2 L591.9,214.1 L586.7,213.1 L583.5,211.9Z"/><path d="M590.1,197.4 L591.4,196.5 L593.6,197.0 L597.1,194.4 L601.5,191.3 L604.1,187.8 L605.0,189.5 L607.6,191.3 L605.8,192.2 L605.5,198.3 L607.6,198.6 L605.0,200.9 L603.2,203.5 L602.4,206.6 L599.7,206.1 L597.1,205.6 L594.5,205.2 L592.2,204.9 L591.9,201.7 L590.1,200.0 L590.1,197.4Z"/><path d="M608.5,209.6 L610.2,209.6 L610.2,205.2 L612.0,207.8 L613.7,209.2 L612.8,205.2 L614.9,201.4 L611.1,201.7 L610.6,199.1 L614.6,199.1 L618.1,197.4 L612.8,198.3 L609.3,198.6 L607.6,201.7 L608.5,205.2 L608.5,209.6Z"/><path d="M628.5,202.6 L633.8,201.4 L637.2,203.8 L640.7,202.8 L646.0,204.5 L652.1,206.6 L655.6,210.5 L658.2,214.0 L661.7,218.0 L657.3,217.4 L654.7,214.8 L651.2,213.4 L649.5,216.0 L646.0,215.9 L642.5,214.1 L640.7,212.2 L639.9,208.7 L635.5,207.5 L632.0,207.0 L630.3,204.9 L628.5,202.6Z"/><path d="M598.9,238.4 L598.9,245.4 L600.6,252.3 L600.6,258.4 L601.5,260.7 L605.8,261.1 L611.1,259.0 L616.3,257.6 L619.8,256.3 L625.0,255.1 L629.4,254.9 L633.8,256.7 L636.9,260.7 L639.9,257.6 L640.7,260.2 L643.4,262.5 L645.1,266.3 L650.3,267.7 L655.6,268.0 L658.2,265.9 L661.7,264.5 L663.4,259.3 L666.0,255.8 L667.8,250.6 L666.9,244.5 L663.4,241.0 L660.8,238.9 L659.6,235.8 L655.6,233.1 L653.8,228.8 L653.5,225.8 L650.3,224.4 L648.6,218.8 L647.4,221.8 L646.8,226.2 L645.6,230.5 L643.4,230.5 L638.6,227.6 L636.4,226.2 L638.6,221.3 L635.5,220.9 L631.1,219.9 L628.5,221.3 L626.8,222.7 L625.9,226.2 L622.4,224.4 L618.9,225.3 L617.2,228.8 L613.7,229.7 L612.0,234.0 L607.6,234.9 L603.2,236.1 L598.9,238.4Z"/><path d="M652.4,271.0 L658.7,271.3 L658.2,275.4 L655.6,276.1 L652.9,273.3 L652.4,271.0Z"/><path d="M701.3,260.0 L704.4,262.8 L707.0,265.4 L711.4,265.8 L708.8,268.6 L707.0,272.0 L704.9,272.0 L705.3,268.9 L703.2,268.4 L704.4,264.5 L701.3,260.0Z"/><path d="M701.3,270.6 L704.1,272.4 L702.3,275.0 L698.6,277.6 L697.4,280.2 L693.9,281.3 L690.5,280.2 L693.1,276.8 L697.4,275.0 L700.0,272.4 L701.3,270.6Z"/><path d="M419.2,63.1 L427.9,60.4 L438.4,59.6 L447.1,60.4 L436.6,63.1 L429.7,66.2 L424.4,64.8 L419.2,63.1Z"/><path d="M490.0,74.4 L496.0,70.0 L505.0,67.5 L520.0,65.6 L520.0,67.0 L507.5,69.4 L500.0,72.5 L498.8,75.6 L503.8,78.0 L497.0,77.0Z"/><path d="M559.0,61.0 L565.0,58.5 L575.0,58.0 L580.0,60.0 L580.0,63.5 L570.0,63.0 L562.0,62.5Z"/><path d="M639.0,69.2 L647.7,69.5 L656.4,68.6 L649.5,67.4 L639.0,69.2Z"/><path d="M86.0,75.3 L90.4,75.8 L87.7,76.3 L86.0,76.1Z"/><path d="M711.9,76.1 L714.0,75.3 L714.0,76.1 L711.9,76.1Z"/><path d="M414.3,128.5 L417.1,128.5 L416.6,132.0 L414.8,132.0 L414.3,128.5Z"/><path d="M415.0,125.3 L416.6,125.0 L416.6,127.8 L415.2,127.3 L415.0,125.3Z"/><path d="M421.6,133.7 L427.2,133.2 L426.3,136.0 L421.6,134.4 L421.6,133.7Z"/><path d="M441.0,137.9 L445.9,138.6 L442.7,139.1 L441.0,138.4 L441.0,137.9Z"/><path d="M456.3,138.9 L460.2,137.9 L458.4,139.5 L456.3,139.5 L456.3,138.9Z"/><path d="M86.0,336.1 L94.7,336.1 L112.2,336.9 L120.9,339.6 L138.3,334.3 L147.1,331.7 L164.5,330.0 L181.9,328.2 L199.4,329.1 L210.0,328.0 L220.0,325.0 L250.0,327.0 L266.0,324.0 L280.0,319.0 L288.0,314.0 L298.0,309.0 L304.0,310.0 L296.0,315.0 L294.0,322.0 L296.0,328.0 L304.0,332.0 L312.0,334.0 L324.0,335.0 L340.0,333.0 L360.0,330.0 L380.0,324.0 L391.3,323.0 L408.7,322.1 L426.2,322.1 L443.6,322.1 L461.1,320.4 L478.5,317.8 L495.9,316.0 L513.4,317.8 L522.1,320.4 L530.8,322.1 L539.6,316.9 L557.0,316.0 L574.4,315.1 L591.9,315.1 L609.3,316.9 L626.8,316.0 L644.2,316.5 L661.7,319.5 L679.1,322.1 L687.8,324.7 L696.6,325.6 L696.6,330.8 L687.8,335.2 L705.3,336.1 L714.0,336.1 L714.0,357.0 L86.0,357.0Z"/><path d="M263.0,86.5 L270.0,86.0 L273.0,89.0 L268.0,92.0 L263.0,90.0Z"/><path d="M599.0,214.0 L605.0,214.5 L612.0,215.0 L622.0,214.5 L622.0,216.5 L612.0,217.0 L605.0,216.5 L599.0,216.0Z"/><path d="M621.5,196.0 L624.5,196.5 L624.0,202.0 L621.5,201.0Z"/><path d="M628.0,201.5 L638.0,202.5 L637.0,205.5 L629.0,205.0Z"/><path d="M662.0,205.0 L668.0,206.5 L666.5,209.5 L662.0,208.0Z"/><path d="M669.0,209.0 L683.0,217.5 L682.5,219.0 L668.5,210.5Z"/><path d="M603.5,184.5 L608.5,179.5 L609.5,180.5 L604.5,185.5Z"/><path d="M262.5,153.0 L264.5,153.5 L267.5,156.0 L265.0,156.0Z"/><path d="M270.0,160.0 L273.0,160.5 L275.0,162.5 L271.5,163.0Z"/><path d="M282.0,167.0 L285.6,167.2 L285.4,168.6 L282.0,168.7Z"/><path d="M183.8,66.6 L191.2,64.8 L198.8,64.0 L197.0,66.5 L195.0,67.4 L184.5,67.8Z"/><path d="M198.8,63.2 L204.0,62.5 L210.0,62.9 L209.2,64.8 L204.0,65.5 L199.5,65.1Z"/><path d="M195.0,67.8 L202.5,66.2 L208.5,66.6 L215.2,67.4 L214.5,69.2 L206.2,69.6 L195.8,69.2Z"/><path d="M214.5,61.8 L225.0,62.1 L232.5,62.9 L234.0,64.8 L226.5,64.8 L217.5,64.8 L215.2,63.2Z"/><path d="M217.5,66.2 L228.8,66.2 L231.8,68.5 L222.0,69.6 L217.5,68.5Z"/><path d="M182.2,71.1 L187.5,70.0 L195.0,70.4 L194.2,73.4 L189.0,75.6 L183.0,74.5Z"/><path d="M193.5,72.6 L202.5,72.2 L216.0,71.9 L219.0,74.5 L225.0,77.5 L222.0,79.8 L211.5,79.8 L201.0,80.5 L195.0,77.5Z"/><path d="M220.5,71.1 L229.5,71.1 L231.0,74.5 L226.5,75.2 L222.0,73.8Z"/><path d="M232.5,66.0 L238.0,66.0 L240.0,69.0 L236.0,71.0 L238.0,75.0 L240.0,80.0 L233.0,80.0 L231.0,76.0 L233.0,71.0Z"/><path d="M124.0,162.5 L126.0,163.0 L130.0,166.5 L128.5,167.5 L125.0,164.5Z"/><path d="M685.5,234.5 L687.0,234.5 L691.0,238.0 L690.0,239.0Z"/><path d="M689.5,225.0 L690.5,225.0 L692.5,229.0 L691.5,229.5Z"/><path d="M708.0,229.0 L713.0,227.5 L714.0,229.5 L709.0,230.5Z"/><path d="M492.5,177.0 L495.0,177.5 L494.5,179.0 L492.0,178.5Z"/><path d="M293.0,290.0 L297.0,289.0 L300.0,290.5 L296.0,291.5Z"/><path d="M97.5,223.2 L99.5,223.5 L99.5,224.3 L97.5,224.2Z"/><path d="M138.0,229.5 L139.0,229.5 L139.0,230.5 L138.0,230.5Z"/><path d="M240.5,199.5 L241.8,199.5 L241.8,200.8 L240.5,200.8Z"/><path d="M370.5,150.3 L376.0,149.6 L376.5,150.8 L371.0,151.6Z"/><path d="M101.0,88.5 L105.5,89.0 L105.0,90.2 L101.5,90.0Z"/></g></g>
<g stroke="#111" stroke-width="1.2" stroke-dasharray="1.7 3.8"><line x1="86.00" y1="46.75" x2="86.00" y2="357"/><line x1="164.50" y1="46.75" x2="164.50" y2="357"/><line x1="243.00" y1="46.75" x2="243.00" y2="357"/><line x1="321.50" y1="46.75" x2="321.50" y2="357"/><line x1="400.00" y1="46.75" x2="400.00" y2="357"/><line x1="478.50" y1="46.75" x2="478.50" y2="357"/><line x1="557.00" y1="46.75" x2="557.00" y2="357"/><line x1="635.50" y1="46.75" x2="635.50" y2="357"/><line x1="714.00" y1="46.75" x2="714.00" y2="357"/><line x1="87" y1="95.33" x2="714" y2="95.33"/><line x1="87" y1="147.67" x2="714" y2="147.67"/><line x1="87" y1="200.00" x2="714" y2="200.00"/><line x1="87" y1="252.33" x2="714" y2="252.33"/><line x1="87" y1="304.67" x2="714" y2="304.67"/></g>
<g fill="none" stroke="#0000ff" stroke-width="3.3" stroke-linecap="round" stroke-linejoin="round"><path d="M480.7,86.9 L480.0,87.7 L479.3,88.5 L478.6,89.3 L478.0,90.1 L477.3,90.9 L476.7,91.7 L476.1,92.6 L475.5,93.4 L475.0,94.2 L474.4,95.0 L473.9,95.8 L473.4,96.6 L472.8,97.4 L472.3,98.2 L471.8,99.0 L471.4,99.9 L470.9,100.7 L470.4,101.5 L470.0,102.3 L469.6,103.1 L469.1,103.9 L468.7,104.8 L468.3,105.6 L467.9,106.4 L467.5,107.2 L467.1,108.0 L466.7,108.9 L466.3,109.7 L466.0,110.5 L465.6,111.3 L465.2,112.2 L464.9,113.0 L464.5,113.8 L464.2,114.6 L463.9,115.4 L463.5,116.3 L463.2,117.1 L462.9,117.9 L462.6,118.8 L462.3,119.6 L462.0,120.4 L461.7,121.2 L461.4,122.1 L461.1,122.9 L460.8,123.7 L460.5,124.5 L460.2,125.4 L459.9,126.2 L459.7,127.0 L459.4,127.9 L459.1,128.7 L458.8,129.5 L458.6,130.4 L458.3,131.2 L458.1,132.0 L457.8,132.8 L457.5,133.7 L457.3,134.5 L457.0,135.3 L456.8,136.2 L456.6,137.0 L456.3,137.8 L456.1,138.7 L455.8,139.5 L455.6,140.3 L455.4,141.2 L455.1,142.0 L454.9,142.8 L454.7,143.7 L454.5,144.5 L454.2,145.3 L454.0,146.2 L453.8,147.0 L453.6,147.8 L453.4,148.7 L453.1,149.5 L452.9,150.3 L452.7,151.2 L452.5,152.0 L452.3,152.8 L452.1,153.7 L451.9,154.5 L451.7,155.3 L451.5,156.2 L451.2,157.0 L451.0,157.8 L450.8,158.7 L450.6,159.5 L450.4,160.4 L450.2,161.2 L450.0,162.0 L449.8,162.9 L449.7,163.7 L449.5,164.5 L449.3,165.4 L449.1,166.2 L448.9,167.0 L448.7,167.9 L448.5,168.7 L448.3,169.5 L448.1,170.4 L447.9,171.2 L447.7,172.0 L447.5,172.9 L447.4,173.7 L447.2,174.6 L447.0,175.4 L446.8,176.2 L446.6,177.1 L446.4,177.9 L446.2,178.7 L446.1,179.6 L445.9,180.4 L445.7,181.2 L445.5,182.1 L445.3,182.9 L445.1,183.8 L445.0,184.6 L444.8,185.4 L444.6,186.3 L444.4,187.1 L444.2,187.9 L444.1,188.8 L443.9,189.6 L443.7,190.4 L443.5,191.3 L443.3,192.1 L443.2,193.0 L443.0,193.8 L442.8,194.6 L442.6,195.5 L442.4,196.3 L442.3,197.1 L442.1,198.0 L441.9,198.8 L441.7,199.6 L441.5,200.5 L441.4,201.3 L441.2,202.2 L441.0,203.0 L440.8,203.8 L440.7,204.7 L440.5,205.5 L440.3,206.3 L440.1,207.2 L439.9,208.0 L439.8,208.8 L439.6,209.7 L439.4,210.5 L439.2,211.4 L439.0,212.2 L438.9,213.0 L438.7,213.9 L438.5,214.7 L438.3,215.5 L438.1,216.4 L438.0,217.2 L437.8,218.1 L437.6,218.9 L437.4,219.7 L437.2,220.6 L437.0,221.4 L436.9,222.2 L436.7,223.1 L436.5,223.9 L436.3,224.7 L436.1,225.6 L435.9,226.4 L435.7,227.2 L435.5,228.1 L435.4,228.9 L435.2,229.8 L435.0,230.6 L434.8,231.4 L434.6,232.3 L434.4,233.1 L434.2,233.9 L434.0,234.8 L433.8,235.6 L433.6,236.4 L433.4,237.3 L433.2,238.1 L433.0,238.9 L432.8,239.8 L432.6,240.6 L432.4,241.5 L432.2,242.3 L432.0,243.1 L431.8,244.0 L431.6,244.8 L431.4,245.6 L431.2,246.5 L431.0,247.3 L430.8,248.1 L430.6,249.0 L430.4,249.8 L430.1,250.6 L429.9,251.5 L429.7,252.3 L429.5,253.1 L429.3,254.0 L429.0,254.8 L428.8,255.6 L428.6,256.5 L428.4,257.3 L428.1,258.1 L427.9,259.0 L427.7,259.8 L427.4,260.6 L427.2,261.5 L427.0,262.3 L426.7,263.1 L426.5,264.0 L426.2,264.8 L426.0,265.6 L425.7,266.5 L425.5,267.3 L425.2,268.1 L425.0,268.9 L424.7,269.8 L424.4,270.6 L424.2,271.4 L423.9,272.3 L423.6,273.1 L423.3,273.9 L423.1,274.8 L422.8,275.6 L422.5,276.4 L422.2,277.2 L421.9,278.1 L421.6,278.9 L421.3,279.7 L421.0,280.5 L420.7,281.4 L420.4,282.2 L420.0,283.0 L419.7,283.9 L419.4,284.7 L419.0,285.5 L418.7,286.3 L418.4,287.2 L418.0,288.0 L417.6,288.8 L417.3,289.6 L416.9,290.4 L416.5,291.3 L416.1,292.1 L415.8,292.9 L415.4,293.7 L415.0,294.6 L414.5,295.4 L414.1,296.2 L413.7,297.0 L413.2,297.8 L412.8,298.6 L412.3,299.5 L411.9,300.3 L411.4,301.1 L410.9,301.9 L410.4,302.7 L409.9,303.5 L409.3,304.3 L408.8,305.1 L408.2,306.0 L407.7,306.8 L407.1,307.6 L406.5,308.4 L405.9,309.2 L405.2,310.0 L404.6,310.8 L403.9,311.6 L403.2,312.4 L402.5,313.2 L401.8,314.0 L401.0,314.8 L400.2,315.6 L399.4,316.4 L398.6,317.1 L397.7,317.9 L396.8,318.7 L395.8,319.5 L394.9,320.3 L393.9,321.0 L392.8,321.8 L391.7,322.6 L390.6,323.3 L389.4,324.1 L388.1,324.9 L386.9,325.6 L385.5,326.4 L384.1,327.1 L382.6,327.8 L381.1,328.6 L379.4,329.3 L377.7,330.0 L375.9,330.7 L374.0,331.4 L372.0,332.1 L369.9,332.8 L367.7,333.5 L365.4,334.1 L362.9,334.8 L360.3,335.4 L357.5,336.1 L354.6,336.7 L351.5,337.2 L348.2,337.8 L344.8,338.4 L341.1,338.9 L337.2,339.4 L333.1,339.9 L328.8,340.3 L324.3,340.7 L319.5,341.1 L314.5,341.5 L309.3,341.8 L303.9,342.0 L298.3,342.3 L292.6,342.4 L286.8,342.6 L280.9,342.7 L274.9,342.7 L268.9,342.7 L263.0,342.6 L257.1,342.5 L251.3,342.3 L245.7,342.1 L240.2,341.9 L235.0,341.6 L229.9,341.2 L225.1,340.9 L220.5,340.5 L216.1,340.0 L211.9,339.6 L207.9,339.1 L204.2,338.6 L200.7,338.0 L197.3,337.4 L194.2,336.9 L191.2,336.3 L188.4,335.6 L185.7,335.0 L183.2,334.4 L180.8,333.7 L178.5,333.0 L176.4,332.4 L174.4,331.7 L172.5,331.0 L170.6,330.3 M523.8,86.9 L523.1,87.7 L522.4,88.5 L521.8,89.3 L521.1,90.1 L520.5,90.9 L519.9,91.7 L519.3,92.6 L518.7,93.4 L518.1,94.2 L517.6,95.0 L517.0,95.8 L516.5,96.6 L516.0,97.4 L515.5,98.2 L515.0,99.0 L514.5,99.9 L514.0,100.7 L513.6,101.5 L513.1,102.3 L512.7,103.1 L512.3,103.9 L511.8,104.8 L511.4,105.6 L511.0,106.4 L510.6,107.2 L510.2,108.0 L509.8,108.9 L509.5,109.7 L509.1,110.5 L508.7,111.3 L508.4,112.2 L508.0,113.0 L507.7,113.8 L507.3,114.6 L507.0,115.4 L506.7,116.3 L506.4,117.1 L506.0,117.9 L505.7,118.8 L505.4,119.6 L505.1,120.4 L504.8,121.2 L504.5,122.1 L504.2,122.9 L503.9,123.7 L503.6,124.5 L503.3,125.4 L503.1,126.2 L502.8,127.0 L502.5,127.9 L502.2,128.7 L502.0,129.5 L501.7,130.4 L501.4,131.2 L501.2,132.0 L500.9,132.8 L500.7,133.7 L500.4,134.5 L500.2,135.3 L499.9,136.2 L499.7,137.0 L499.4,137.8 L499.2,138.7 L499.0,139.5 L498.7,140.3 L498.5,141.2 L498.3,142.0 L498.0,142.8 L497.8,143.7 L497.6,144.5 L497.4,145.3 L497.1,146.2 L496.9,147.0 L496.7,147.8 L496.5,148.7 L496.3,149.5 L496.1,150.3 L495.8,151.2 L495.6,152.0 L495.4,152.8 L495.2,153.7 L495.0,154.5 L494.8,155.3 L494.6,156.2 L494.4,157.0 L494.2,157.8 L494.0,158.7 L493.8,159.5 L493.6,160.4 L493.4,161.2 L493.2,162.0 L493.0,162.9 L492.8,163.7 L492.6,164.5 L492.4,165.4 L492.2,166.2 L492.0,167.0 L491.8,167.9 L491.6,168.7 L491.4,169.5 L491.2,170.4 L491.1,171.2 L490.9,172.0 L490.7,172.9 L490.5,173.7 L490.3,174.6 L490.1,175.4 L489.9,176.2 L489.7,177.1 L489.6,177.9 L489.4,178.7 L489.2,179.6 L489.0,180.4 L488.8,181.2 L488.6,182.1 L488.5,182.9 L488.3,183.8 L488.1,184.6 L487.9,185.4 L487.7,186.3 L487.6,187.1 L487.4,187.9 L487.2,188.8 L487.0,189.6 L486.8,190.4 L486.7,191.3 L486.5,192.1 L486.3,193.0 L486.1,193.8 L485.9,194.6 L485.8,195.5 L485.6,196.3 L485.4,197.1 L485.2,198.0 L485.0,198.8 L484.9,199.6 L484.7,200.5 L484.5,201.3 L484.3,202.2 L484.1,203.0 L484.0,203.8 L483.8,204.7 L483.6,205.5 L483.4,206.3 L483.3,207.2 L483.1,208.0 L482.9,208.8 L482.7,209.7 L482.5,210.5 L482.4,211.4 L482.2,212.2 L482.0,213.0 L481.8,213.9 L481.6,214.7 L481.5,215.5 L481.3,216.4 L481.1,217.2 L480.9,218.1 L480.7,218.9 L480.5,219.7 L480.4,220.6 L480.2,221.4 L480.0,222.2 L479.8,223.1 L479.6,223.9 L479.4,224.7 L479.2,225.6 L479.1,226.4 L478.9,227.2 L478.7,228.1 L478.5,228.9 L478.3,229.8 L478.1,230.6 L477.9,231.4 L477.7,232.3 L477.5,233.1 L477.3,233.9 L477.1,234.8 L477.0,235.6 L476.8,236.4 L476.6,237.3 L476.4,238.1 L476.2,238.9 L476.0,239.8 L475.8,240.6 L475.6,241.5 L475.4,242.3 L475.2,243.1 L475.0,244.0 L474.7,244.8 L474.5,245.6 L474.3,246.5 L474.1,247.3 L473.9,248.1 L473.7,249.0 L473.5,249.8 L473.3,250.6 L473.1,251.5 L472.8,252.3 L472.6,253.1 L472.4,254.0 L472.2,254.8 L471.9,255.6 L471.7,256.5 L471.5,257.3 L471.3,258.1 L471.0,259.0 L470.8,259.8 L470.6,260.6 L470.3,261.5 L470.1,262.3 L469.8,263.1 L469.6,264.0 L469.4,264.8 L469.1,265.6 L468.9,266.5 L468.6,267.3 L468.3,268.1 L468.1,268.9 L467.8,269.8 L467.6,270.6 L467.3,271.4 L467.0,272.3 L466.7,273.1 L466.5,273.9 L466.2,274.8 L465.9,275.6 L465.6,276.4 L465.3,277.2 L465.0,278.1 L464.7,278.9 L464.4,279.7 L464.1,280.5 L463.8,281.4 L463.5,282.2 L463.2,283.0 L462.8,283.9 L462.5,284.7 L462.2,285.5 L461.8,286.3 L461.5,287.2 L461.1,288.0 L460.8,288.8 L460.4,289.6 L460.0,290.4 L459.7,291.3 L459.3,292.1 L458.9,292.9 L458.5,293.7 L458.1,294.6 L457.7,295.4 L457.2,296.2 L456.8,297.0 L456.4,297.8 L455.9,298.6 L455.5,299.5 L455.0,300.3 L454.5,301.1 L454.0,301.9 L453.5,302.7 L453.0,303.5 L452.5,304.3 L451.9,305.1 L451.4,306.0 L450.8,306.8 L450.2,307.6 L449.6,308.4 L449.0,309.2 L448.4,310.0 L447.7,310.8 L447.0,311.6 L446.3,312.4 L445.6,313.2 L444.9,314.0 L444.1,314.8 L443.3,315.6 L442.5,316.4 L441.7,317.1 L440.8,317.9 L439.9,318.7 L439.0,319.5 L438.0,320.3 L437.0,321.0 L435.9,321.8 L434.8,322.6 L433.7,323.3 L432.5,324.1 L431.3,324.9 L430.0,325.6 L428.6,326.4 L427.2,327.1 L425.7,327.8 L424.2,328.6 L422.6,329.3 L420.9,330.0 L419.1,330.7 L417.2,331.4 L415.2,332.1 L413.1,332.8 L410.9,333.5 L408.5,334.1 L406.0,334.8 L403.4,335.4 L400.7,336.1 L397.7,336.7 L394.7,337.2 L391.4,337.8 L387.9,338.4 L384.2,338.9 L380.4,339.4 L376.3,339.9 L371.9,340.3 L367.4,340.7 L362.6,341.1 L357.6,341.5 L352.4,341.8 L347.1,342.0 L341.5,342.3 L335.8,342.4 L329.9,342.6 L324.0,342.7 L318.0,342.7 L312.0,342.7 L306.1,342.6 L300.2,342.5 L294.5,342.3 L288.8,342.1 L283.4,341.9 L278.1,341.6 L273.1,341.2 L268.2,340.9 L263.6,340.5 L259.2,340.0 L255.0,339.6 L251.1,339.1 L247.3,338.6 L243.8,338.0 L240.5,337.4 L237.3,336.9 L234.3,336.3 L231.5,335.6 L228.8,335.0 L226.3,334.4 L223.9,333.7 L221.7,333.0 L219.5,332.4 L217.5,331.7 L215.6,331.0 L213.8,330.3 M567.0,86.9 L566.2,87.7 L565.6,88.5 L564.9,89.3 L564.2,90.1 L563.6,90.9 L563.0,91.7 L562.4,92.6 L561.8,93.4 L561.2,94.2 L560.7,95.0 L560.1,95.8 L559.6,96.6 L559.1,97.4 L558.6,98.2 L558.1,99.0 L557.6,99.9 L557.2,100.7 L556.7,101.5 L556.3,102.3 L555.8,103.1 L555.4,103.9 L555.0,104.8 L554.6,105.6 L554.2,106.4 L553.8,107.2 L553.4,108.0 L553.0,108.9 L552.6,109.7 L552.2,110.5 L551.9,111.3 L551.5,112.2 L551.2,113.0 L550.8,113.8 L550.5,114.6 L550.1,115.4 L549.8,116.3 L549.5,117.1 L549.2,117.9 L548.9,118.8 L548.5,119.6 L548.2,120.4 L547.9,121.2 L547.6,122.1 L547.3,122.9 L547.0,123.7 L546.8,124.5 L546.5,125.4 L546.2,126.2 L545.9,127.0 L545.6,127.9 L545.4,128.7 L545.1,129.5 L544.8,130.4 L544.6,131.2 L544.3,132.0 L544.1,132.8 L543.8,133.7 L543.6,134.5 L543.3,135.3 L543.1,136.2 L542.8,137.0 L542.6,137.8 L542.3,138.7 L542.1,139.5 L541.9,140.3 L541.6,141.2 L541.4,142.0 L541.2,142.8 L540.9,143.7 L540.7,144.5 L540.5,145.3 L540.3,146.2 L540.1,147.0 L539.8,147.8 L539.6,148.7 L539.4,149.5 L539.2,150.3 L539.0,151.2 L538.8,152.0 L538.6,152.8 L538.3,153.7 L538.1,154.5 L537.9,155.3 L537.7,156.2 L537.5,157.0 L537.3,157.8 L537.1,158.7 L536.9,159.5 L536.7,160.4 L536.5,161.2 L536.3,162.0 L536.1,162.9 L535.9,163.7 L535.7,164.5 L535.5,165.4 L535.3,166.2 L535.1,167.0 L534.9,167.9 L534.8,168.7 L534.6,169.5 L534.4,170.4 L534.2,171.2 L534.0,172.0 L533.8,172.9 L533.6,173.7 L533.4,174.6 L533.2,175.4 L533.1,176.2 L532.9,177.1 L532.7,177.9 L532.5,178.7 L532.3,179.6 L532.1,180.4 L532.0,181.2 L531.8,182.1 L531.6,182.9 L531.4,183.8 L531.2,184.6 L531.0,185.4 L530.9,186.3 L530.7,187.1 L530.5,187.9 L530.3,188.8 L530.1,189.6 L530.0,190.4 L529.8,191.3 L529.6,192.1 L529.4,193.0 L529.2,193.8 L529.1,194.6 L528.9,195.5 L528.7,196.3 L528.5,197.1 L528.4,198.0 L528.2,198.8 L528.0,199.6 L527.8,200.5 L527.6,201.3 L527.5,202.2 L527.3,203.0 L527.1,203.8 L526.9,204.7 L526.7,205.5 L526.6,206.3 L526.4,207.2 L526.2,208.0 L526.0,208.8 L525.8,209.7 L525.7,210.5 L525.5,211.4 L525.3,212.2 L525.1,213.0 L524.9,213.9 L524.8,214.7 L524.6,215.5 L524.4,216.4 L524.2,217.2 L524.0,218.1 L523.9,218.9 L523.7,219.7 L523.5,220.6 L523.3,221.4 L523.1,222.2 L522.9,223.1 L522.7,223.9 L522.6,224.7 L522.4,225.6 L522.2,226.4 L522.0,227.2 L521.8,228.1 L521.6,228.9 L521.4,229.8 L521.2,230.6 L521.1,231.4 L520.9,232.3 L520.7,233.1 L520.5,233.9 L520.3,234.8 L520.1,235.6 L519.9,236.4 L519.7,237.3 L519.5,238.1 L519.3,238.9 L519.1,239.8 L518.9,240.6 L518.7,241.5 L518.5,242.3 L518.3,243.1 L518.1,244.0 L517.9,244.8 L517.7,245.6 L517.5,246.5 L517.3,247.3 L517.0,248.1 L516.8,249.0 L516.6,249.8 L516.4,250.6 L516.2,251.5 L516.0,252.3 L515.8,253.1 L515.5,254.0 L515.3,254.8 L515.1,255.6 L514.9,256.5 L514.6,257.3 L514.4,258.1 L514.2,259.0 L513.9,259.8 L513.7,260.6 L513.5,261.5 L513.2,262.3 L513.0,263.1 L512.7,264.0 L512.5,264.8 L512.2,265.6 L512.0,266.5 L511.7,267.3 L511.5,268.1 L511.2,268.9 L511.0,269.8 L510.7,270.6 L510.4,271.4 L510.2,272.3 L509.9,273.1 L509.6,273.9 L509.3,274.8 L509.0,275.6 L508.7,276.4 L508.5,277.2 L508.2,278.1 L507.9,278.9 L507.6,279.7 L507.3,280.5 L506.9,281.4 L506.6,282.2 L506.3,283.0 L506.0,283.9 L505.6,284.7 L505.3,285.5 L505.0,286.3 L504.6,287.2 L504.3,288.0 L503.9,288.8 L503.5,289.6 L503.2,290.4 L502.8,291.3 L502.4,292.1 L502.0,292.9 L501.6,293.7 L501.2,294.6 L500.8,295.4 L500.4,296.2 L500.0,297.0 L499.5,297.8 L499.1,298.6 L498.6,299.5 L498.1,300.3 L497.7,301.1 L497.2,301.9 L496.7,302.7 L496.1,303.5 L495.6,304.3 L495.1,305.1 L494.5,306.0 L493.9,306.8 L493.4,307.6 L492.8,308.4 L492.1,309.2 L491.5,310.0 L490.8,310.8 L490.2,311.6 L489.5,312.4 L488.8,313.2 L488.0,314.0 L487.3,314.8 L486.5,315.6 L485.7,316.4 L484.8,317.1 L483.9,317.9 L483.0,318.7 L482.1,319.5 L481.1,320.3 L480.1,321.0 L479.1,321.8 L478.0,322.6 L476.8,323.3 L475.6,324.1 L474.4,324.9 L473.1,325.6 L471.8,326.4 L470.4,327.1 L468.9,327.8 L467.3,328.6 L465.7,329.3 L464.0,330.0 L462.2,330.7 L460.3,331.4 L458.3,332.1 L456.2,332.8 L454.0,333.5 L451.7,334.1 L449.2,334.8 L446.6,335.4 L443.8,336.1 L440.9,336.7 L437.8,337.2 L434.5,337.8 L431.0,338.4 L427.4,338.9 L423.5,339.4 L419.4,339.9 L415.1,340.3 L410.5,340.7 L405.8,341.1 L400.8,341.5 L395.6,341.8 L390.2,342.0 L384.6,342.3 L378.9,342.4 L373.1,342.6 L367.1,342.7 L361.2,342.7 L355.2,342.7 L349.2,342.6 L343.4,342.5 L337.6,342.3 L332.0,342.1 L326.5,341.9 L321.2,341.6 L316.2,341.2 L311.3,340.9 L306.7,340.5 L302.3,340.0 L298.2,339.6 L294.2,339.1 L290.5,338.6 L286.9,338.0 L283.6,337.4 L280.4,336.9 L277.4,336.3 L274.6,335.6 L272.0,335.0 L269.4,334.4 L267.1,333.7 L264.8,333.0 L262.7,332.4 L260.6,331.7 L258.7,331.0 L256.9,330.3 M610.1,86.9 L609.4,87.7 L608.7,88.5 L608.0,89.3 L607.4,90.1 L606.7,90.9 L606.1,91.7 L605.5,92.6 L604.9,93.4 L604.4,94.2 L603.8,95.0 L603.3,95.8 L602.8,96.6 L602.2,97.4 L601.7,98.2 L601.2,99.0 L600.8,99.9 L600.3,100.7 L599.8,101.5 L599.4,102.3 L599.0,103.1 L598.5,103.9 L598.1,104.8 L597.7,105.6 L597.3,106.4 L596.9,107.2 L596.5,108.0 L596.1,108.9 L595.7,109.7 L595.4,110.5 L595.0,111.3 L594.6,112.2 L594.3,113.0 L593.9,113.8 L593.6,114.6 L593.3,115.4 L592.9,116.3 L592.6,117.1 L592.3,117.9 L592.0,118.8 L591.7,119.6 L591.4,120.4 L591.1,121.2 L590.8,122.1 L590.5,122.9 L590.2,123.7 L589.9,124.5 L589.6,125.4 L589.3,126.2 L589.1,127.0 L588.8,127.9 L588.5,128.7 L588.2,129.5 L588.0,130.4 L587.7,131.2 L587.5,132.0 L587.2,132.8 L586.9,133.7 L586.7,134.5 L586.4,135.3 L586.2,136.2 L586.0,137.0 L585.7,137.8 L585.5,138.7 L585.2,139.5 L585.0,140.3 L584.8,141.2 L584.5,142.0 L584.3,142.8 L584.1,143.7 L583.9,144.5 L583.6,145.3 L583.4,146.2 L583.2,147.0 L583.0,147.8 L582.8,148.7 L582.5,149.5 L582.3,150.3 L582.1,151.2 L581.9,152.0 L581.7,152.8 L581.5,153.7 L581.3,154.5 L581.1,155.3 L580.9,156.2 L580.7,157.0 L580.4,157.8 L580.2,158.7 L580.0,159.5 L579.8,160.4 L579.6,161.2 L579.4,162.0 L579.2,162.9 L579.1,163.7 L578.9,164.5 L578.7,165.4 L578.5,166.2 L578.3,167.0 L578.1,167.9 L577.9,168.7 L577.7,169.5 L577.5,170.4 L577.3,171.2 L577.1,172.0 L576.9,172.9 L576.8,173.7 L576.6,174.6 L576.4,175.4 L576.2,176.2 L576.0,177.1 L575.8,177.9 L575.6,178.7 L575.5,179.6 L575.3,180.4 L575.1,181.2 L574.9,182.1 L574.7,182.9 L574.5,183.8 L574.4,184.6 L574.2,185.4 L574.0,186.3 L573.8,187.1 L573.6,187.9 L573.5,188.8 L573.3,189.6 L573.1,190.4 L572.9,191.3 L572.7,192.1 L572.6,193.0 L572.4,193.8 L572.2,194.6 L572.0,195.5 L571.8,196.3 L571.7,197.1 L571.5,198.0 L571.3,198.8 L571.1,199.6 L571.0,200.5 L570.8,201.3 L570.6,202.2 L570.4,203.0 L570.2,203.8 L570.1,204.7 L569.9,205.5 L569.7,206.3 L569.5,207.2 L569.3,208.0 L569.2,208.8 L569.0,209.7 L568.8,210.5 L568.6,211.4 L568.4,212.2 L568.3,213.0 L568.1,213.9 L567.9,214.7 L567.7,215.5 L567.5,216.4 L567.4,217.2 L567.2,218.1 L567.0,218.9 L566.8,219.7 L566.6,220.6 L566.4,221.4 L566.3,222.2 L566.1,223.1 L565.9,223.9 L565.7,224.7 L565.5,225.6 L565.3,226.4 L565.1,227.2 L564.9,228.1 L564.8,228.9 L564.6,229.8 L564.4,230.6 L564.2,231.4 L564.0,232.3 L563.8,233.1 L563.6,233.9 L563.4,234.8 L563.2,235.6 L563.0,236.4 L562.8,237.3 L562.6,238.1 L562.4,238.9 L562.2,239.8 L562.0,240.6 L561.8,241.5 L561.6,242.3 L561.4,243.1 L561.2,244.0 L561.0,244.8 L560.8,245.6 L560.6,246.5 L560.4,247.3 L560.2,248.1 L560.0,249.0 L559.8,249.8 L559.5,250.6 L559.3,251.5 L559.1,252.3 L558.9,253.1 L558.7,254.0 L558.4,254.8 L558.2,255.6 L558.0,256.5 L557.8,257.3 L557.5,258.1 L557.3,259.0 L557.1,259.8 L556.8,260.6 L556.6,261.5 L556.4,262.3 L556.1,263.1 L555.9,264.0 L555.6,264.8 L555.4,265.6 L555.1,266.5 L554.9,267.3 L554.6,268.1 L554.4,268.9 L554.1,269.8 L553.8,270.6 L553.6,271.4 L553.3,272.3 L553.0,273.1 L552.7,273.9 L552.5,274.8 L552.2,275.6 L551.9,276.4 L551.6,277.2 L551.3,278.1 L551.0,278.9 L550.7,279.7 L550.4,280.5 L550.1,281.4 L549.8,282.2 L549.4,283.0 L549.1,283.9 L548.8,284.7 L548.4,285.5 L548.1,286.3 L547.8,287.2 L547.4,288.0 L547.0,288.8 L546.7,289.6 L546.3,290.4 L545.9,291.3 L545.6,292.1 L545.2,292.9 L544.8,293.7 L544.4,294.6 L543.9,295.4 L543.5,296.2 L543.1,297.0 L542.6,297.8 L542.2,298.6 L541.7,299.5 L541.3,300.3 L540.8,301.1 L540.3,301.9 L539.8,302.7 L539.3,303.5 L538.7,304.3 L538.2,305.1 L537.6,306.0 L537.1,306.8 L536.5,307.6 L535.9,308.4 L535.3,309.2 L534.6,310.0 L534.0,310.8 L533.3,311.6 L532.6,312.4 L531.9,313.2 L531.2,314.0 L530.4,314.8 L529.6,315.6 L528.8,316.4 L528.0,317.1 L527.1,317.9 L526.2,318.7 L525.2,319.5 L524.3,320.3 L523.3,321.0 L522.2,321.8 L521.1,322.6 L520.0,323.3 L518.8,324.1 L517.5,324.9 L516.3,325.6 L514.9,326.4 L513.5,327.1 L512.0,327.8 L510.5,328.6 L508.8,329.3 L507.1,330.0 L505.3,330.7 L503.4,331.4 L501.4,332.1 L499.3,332.8 L497.1,333.5 L494.8,334.1 L492.3,334.8 L489.7,335.4 L486.9,336.1 L484.0,336.7 L480.9,337.2 L477.6,337.8 L474.2,338.4 L470.5,338.9 L466.6,339.4 L462.5,339.9 L458.2,340.3 L453.7,340.7 L448.9,341.1 L443.9,341.5 L438.7,341.8 L433.3,342.0 L427.7,342.3 L422.0,342.4 L416.2,342.6 L410.3,342.7 L404.3,342.7 L398.3,342.7 L392.4,342.6 L386.5,342.5 L380.7,342.3 L375.1,342.1 L369.6,341.9 L364.4,341.6 L359.3,341.2 L354.5,340.9 L349.9,340.5 L345.5,340.0 L341.3,339.6 L337.3,339.1 L333.6,338.6 L330.1,338.0 L326.7,337.4 L323.6,336.9 L320.6,336.3 L317.8,335.6 L315.1,335.0 L312.6,334.4 L310.2,333.7 L307.9,333.0 L305.8,332.4 L303.8,331.7 L301.9,331.0 L300.0,330.3 M653.2,86.9 L652.5,87.7 L651.8,88.5 L651.2,89.3 L650.5,90.1 L649.9,90.9 L649.3,91.7 L648.7,92.6 L648.1,93.4 L647.5,94.2 L647.0,95.0 L646.4,95.8 L645.9,96.6 L645.4,97.4 L644.9,98.2 L644.4,99.0 L643.9,99.9 L643.4,100.7 L643.0,101.5 L642.5,102.3 L642.1,103.1 L641.7,103.9 L641.2,104.8 L640.8,105.6 L640.4,106.4 L640.0,107.2 L639.6,108.0 L639.2,108.9 L638.9,109.7 L638.5,110.5 L638.1,111.3 L637.8,112.2 L637.4,113.0 L637.1,113.8 L636.7,114.6 L636.4,115.4 L636.1,116.3 L635.8,117.1 L635.4,117.9 L635.1,118.8 L634.8,119.6 L634.5,120.4 L634.2,121.2 L633.9,122.1 L633.6,122.9 L633.3,123.7 L633.0,124.5 L632.7,125.4 L632.5,126.2 L632.2,127.0 L631.9,127.9 L631.6,128.7 L631.4,129.5 L631.1,130.4 L630.8,131.2 L630.6,132.0 L630.3,132.8 L630.1,133.7 L629.8,134.5 L629.6,135.3 L629.3,136.2 L629.1,137.0 L628.8,137.8 L628.6,138.7 L628.4,139.5 L628.1,140.3 L627.9,141.2 L627.7,142.0 L627.4,142.8 L627.2,143.7 L627.0,144.5 L626.8,145.3 L626.5,146.2 L626.3,147.0 L626.1,147.8 L625.9,148.7 L625.7,149.5 L625.5,150.3 L625.2,151.2 L625.0,152.0 L624.8,152.8 L624.6,153.7 L624.4,154.5 L624.2,155.3 L624.0,156.2 L623.8,157.0 L623.6,157.8 L623.4,158.7 L623.2,159.5 L623.0,160.4 L622.8,161.2 L622.6,162.0 L622.4,162.9 L622.2,163.7 L622.0,164.5 L621.8,165.4 L621.6,166.2 L621.4,167.0 L621.2,167.9 L621.0,168.7 L620.8,169.5 L620.6,170.4 L620.5,171.2 L620.3,172.0 L620.1,172.9 L619.9,173.7 L619.7,174.6 L619.5,175.4 L619.3,176.2 L619.1,177.1 L619.0,177.9 L618.8,178.7 L618.6,179.6 L618.4,180.4 L618.2,181.2 L618.0,182.1 L617.9,182.9 L617.7,183.8 L617.5,184.6 L617.3,185.4 L617.1,186.3 L617.0,187.1 L616.8,187.9 L616.6,188.8 L616.4,189.6 L616.2,190.4 L616.1,191.3 L615.9,192.1 L615.7,193.0 L615.5,193.8 L615.3,194.6 L615.2,195.5 L615.0,196.3 L614.8,197.1 L614.6,198.0 L614.4,198.8 L614.3,199.6 L614.1,200.5 L613.9,201.3 L613.7,202.2 L613.5,203.0 L613.4,203.8 L613.2,204.7 L613.0,205.5 L612.8,206.3 L612.7,207.2 L612.5,208.0 L612.3,208.8 L612.1,209.7 L611.9,210.5 L611.8,211.4 L611.6,212.2 L611.4,213.0 L611.2,213.9 L611.0,214.7 L610.9,215.5 L610.7,216.4 L610.5,217.2 L610.3,218.1 L610.1,218.9 L609.9,219.7 L609.8,220.6 L609.6,221.4 L609.4,222.2 L609.2,223.1 L609.0,223.9 L608.8,224.7 L608.6,225.6 L608.5,226.4 L608.3,227.2 L608.1,228.1 L607.9,228.9 L607.7,229.8 L607.5,230.6 L607.3,231.4 L607.1,232.3 L606.9,233.1 L606.7,233.9 L606.5,234.8 L606.4,235.6 L606.2,236.4 L606.0,237.3 L605.8,238.1 L605.6,238.9 L605.4,239.8 L605.2,240.6 L605.0,241.5 L604.8,242.3 L604.6,243.1 L604.4,244.0 L604.1,244.8 L603.9,245.6 L603.7,246.5 L603.5,247.3 L603.3,248.1 L603.1,249.0 L602.9,249.8 L602.7,250.6 L602.5,251.5 L602.2,252.3 L602.0,253.1 L601.8,254.0 L601.6,254.8 L601.3,255.6 L601.1,256.5 L600.9,257.3 L600.7,258.1 L600.4,259.0 L600.2,259.8 L600.0,260.6 L599.7,261.5 L599.5,262.3 L599.2,263.1 L599.0,264.0 L598.8,264.8 L598.5,265.6 L598.3,266.5 L598.0,267.3 L597.7,268.1 L597.5,268.9 L597.2,269.8 L597.0,270.6 L596.7,271.4 L596.4,272.3 L596.1,273.1 L595.9,273.9 L595.6,274.8 L595.3,275.6 L595.0,276.4 L594.7,277.2 L594.4,278.1 L594.1,278.9 L593.8,279.7 L593.5,280.5 L593.2,281.4 L592.9,282.2 L592.6,283.0 L592.2,283.9 L591.9,284.7 L591.6,285.5 L591.2,286.3 L590.9,287.2 L590.5,288.0 L590.2,288.8 L589.8,289.6 L589.4,290.4 L589.1,291.3 L588.7,292.1 L588.3,292.9 L587.9,293.7 L587.5,294.6 L587.1,295.4 L586.7,296.2 L586.2,297.0 L585.8,297.8 L585.3,298.6 L584.9,299.5 L584.4,300.3 L583.9,301.1 L583.4,301.9 L582.9,302.7 L582.4,303.5 L581.9,304.3 L581.3,305.1 L580.8,306.0 L580.2,306.8 L579.6,307.6 L579.0,308.4 L578.4,309.2 L577.8,310.0 L577.1,310.8 L576.4,311.6 L575.7,312.4 L575.0,313.2 L574.3,314.0 L573.5,314.8 L572.7,315.6 L571.9,316.4 L571.1,317.1 L570.2,317.9 L569.3,318.7 L568.4,319.5 L567.4,320.3 L566.4,321.0 L565.3,321.8 L564.2,322.6 L563.1,323.3 L561.9,324.1 L560.7,324.9 L559.4,325.6 L558.0,326.4 L556.6,327.1 L555.1,327.8 L553.6,328.6 L552.0,329.3 L550.3,330.0 L548.5,330.7 L546.6,331.4 L544.6,332.1 L542.5,332.8 L540.3,333.5 L537.9,334.1 L535.4,334.8 L532.8,335.4 L530.1,336.1 L527.1,336.7 L524.1,337.2 L520.8,337.8 L517.3,338.4 L513.6,338.9 L509.8,339.4 L505.7,339.9 L501.3,340.3 L496.8,340.7 L492.0,341.1 L487.0,341.5 L481.8,341.8 L476.5,342.0 L470.9,342.3 L465.2,342.4 L459.3,342.6 L453.4,342.7 L447.4,342.7 L441.4,342.7 L435.5,342.6 L429.6,342.5 L423.9,342.3 L418.2,342.1 L412.8,341.9 L407.5,341.6 L402.5,341.2 L397.6,340.9 L393.0,340.5 L388.6,340.0 L384.4,339.6 L380.5,339.1 L376.7,338.6 L373.2,338.0 L369.9,337.4 L366.7,336.9 L363.7,336.3 L360.9,335.6 L358.2,335.0 L355.7,334.4 L353.3,333.7 L351.1,333.0 L348.9,332.4 L346.9,331.7 L345.0,331.0 L343.2,330.3 M696.4,86.9 L695.6,87.7 L695.0,88.5 L694.3,89.3 L693.6,90.1 L693.0,90.9 L692.4,91.7 L691.8,92.6 L691.2,93.4 L690.6,94.2 L690.1,95.0 L689.5,95.8 L689.0,96.6 L688.5,97.4 L688.0,98.2 L687.5,99.0 L687.0,99.9 L686.6,100.7 L686.1,101.5 L685.7,102.3 L685.2,103.1 L684.8,103.9 L684.4,104.8 L684.0,105.6 L683.6,106.4 L683.2,107.2 L682.8,108.0 L682.4,108.9 L682.0,109.7 L681.6,110.5 L681.3,111.3 L680.9,112.2 L680.6,113.0 L680.2,113.8 L679.9,114.6 L679.5,115.4 L679.2,116.3 L678.9,117.1 L678.6,117.9 L678.3,118.8 L677.9,119.6 L677.6,120.4 L677.3,121.2 L677.0,122.1 L676.7,122.9 L676.4,123.7 L676.2,124.5 L675.9,125.4 L675.6,126.2 L675.3,127.0 L675.0,127.9 L674.8,128.7 L674.5,129.5 L674.2,130.4 L674.0,131.2 L673.7,132.0 L673.5,132.8 L673.2,133.7 L673.0,134.5 L672.7,135.3 L672.5,136.2 L672.2,137.0 L672.0,137.8 L671.7,138.7 L671.5,139.5 L671.3,140.3 L671.0,141.2 L670.8,142.0 L670.6,142.8 L670.3,143.7 L670.1,144.5 L669.9,145.3 L669.7,146.2 L669.5,147.0 L669.2,147.8 L669.0,148.7 L668.8,149.5 L668.6,150.3 L668.4,151.2 L668.2,152.0 L668.0,152.8 L667.7,153.7 L667.5,154.5 L667.3,155.3 L667.1,156.2 L666.9,157.0 L666.7,157.8 L666.5,158.7 L666.3,159.5 L666.1,160.4 L665.9,161.2 L665.7,162.0 L665.5,162.9 L665.3,163.7 L665.1,164.5 L664.9,165.4 L664.7,166.2 L664.5,167.0 L664.3,167.9 L664.2,168.7 L664.0,169.5 L663.8,170.4 L663.6,171.2 L663.4,172.0 L663.2,172.9 L663.0,173.7 L662.8,174.6 L662.6,175.4 L662.5,176.2 L662.3,177.1 L662.1,177.9 L661.9,178.7 L661.7,179.6 L661.5,180.4 L661.4,181.2 L661.2,182.1 L661.0,182.9 L660.8,183.8 L660.6,184.6 L660.4,185.4 L660.3,186.3 L660.1,187.1 L659.9,187.9 L659.7,188.8 L659.5,189.6 L659.4,190.4 L659.2,191.3 L659.0,192.1 L658.8,193.0 L658.6,193.8 L658.5,194.6 L658.3,195.5 L658.1,196.3 L657.9,197.1 L657.8,198.0 L657.6,198.8 L657.4,199.6 L657.2,200.5 L657.0,201.3 L656.9,202.2 L656.7,203.0 L656.5,203.8 L656.3,204.7 L656.1,205.5 L656.0,206.3 L655.8,207.2 L655.6,208.0 L655.4,208.8 L655.2,209.7 L655.1,210.5 L654.9,211.4 L654.7,212.2 L654.5,213.0 L654.3,213.9 L654.2,214.7 L654.0,215.5 L653.8,216.4 L653.6,217.2 L653.4,218.1 L653.3,218.9 L653.1,219.7 L652.9,220.6 L652.7,221.4 L652.5,222.2 L652.3,223.1 L652.1,223.9 L652.0,224.7 L651.8,225.6 L651.6,226.4 L651.4,227.2 L651.2,228.1 L651.0,228.9 L650.8,229.8 L650.6,230.6 L650.5,231.4 L650.3,232.3 L650.1,233.1 L649.9,233.9 L649.7,234.8 L649.5,235.6 L649.3,236.4 L649.1,237.3 L648.9,238.1 L648.7,238.9 L648.5,239.8 L648.3,240.6 L648.1,241.5 L647.9,242.3 L647.7,243.1 L647.5,244.0 L647.3,244.8 L647.1,245.6 L646.9,246.5 L646.7,247.3 L646.4,248.1 L646.2,249.0 L646.0,249.8 L645.8,250.6 L645.6,251.5 L645.4,252.3 L645.2,253.1 L644.9,254.0 L644.7,254.8 L644.5,255.6 L644.3,256.5 L644.0,257.3 L643.8,258.1 L643.6,259.0 L643.3,259.8 L643.1,260.6 L642.9,261.5 L642.6,262.3 L642.4,263.1 L642.1,264.0 L641.9,264.8 L641.6,265.6 L641.4,266.5 L641.1,267.3 L640.9,268.1 L640.6,268.9 L640.4,269.8 L640.1,270.6 L639.8,271.4 L639.6,272.3 L639.3,273.1 L639.0,273.9 L638.7,274.8 L638.4,275.6 L638.1,276.4 L637.9,277.2 L637.6,278.1 L637.3,278.9 L637.0,279.7 L636.7,280.5 L636.3,281.4 L636.0,282.2 L635.7,283.0 L635.4,283.9 L635.0,284.7 L634.7,285.5 L634.4,286.3 L634.0,287.2 L633.7,288.0 L633.3,288.8 L633.0,289.6 L632.6,290.4 L632.2,291.3 L631.8,292.1 L631.4,292.9 L631.0,293.7 L630.6,294.6 L630.2,295.4 L629.8,296.2 L629.4,297.0 L628.9,297.8 L628.5,298.6 L628.0,299.5 L627.5,300.3 L627.1,301.1 L626.6,301.9 L626.1,302.7 L625.5,303.5 L625.0,304.3 L624.5,305.1 L623.9,306.0 L623.3,306.8 L622.8,307.6 L622.2,308.4 L621.5,309.2 L620.9,310.0 L620.3,310.8 L619.6,311.6 L618.9,312.4 L618.2,313.2 L617.4,314.0 L616.7,314.8 L615.9,315.6 L615.1,316.4 L614.2,317.1 L613.3,317.9 L612.4,318.7 L611.5,319.5 L610.5,320.3 L609.5,321.0 L608.5,321.8 L607.4,322.6 L606.2,323.3 L605.1,324.1 L603.8,324.9 L602.5,325.6 L601.2,326.4 L599.8,327.1 L598.3,327.8 L596.7,328.6 L595.1,329.3 L593.4,330.0 L591.6,330.7 L589.7,331.4 L587.7,332.1 L585.6,332.8 L583.4,333.5 L581.1,334.1 L578.6,334.8 L576.0,335.4 L573.2,336.1 L570.3,336.7 L567.2,337.2 L563.9,337.8 L560.4,338.4 L556.8,338.9 L552.9,339.4 L548.8,339.9 L544.5,340.3 L539.9,340.7 L535.2,341.1 L530.2,341.5 L525.0,341.8 L519.6,342.0 L514.0,342.3 L508.3,342.4 L502.5,342.6 L496.5,342.7 L490.6,342.7 L484.6,342.7 L478.6,342.6 L472.8,342.5 L467.0,342.3 L461.4,342.1 L455.9,341.9 L450.6,341.6 L445.6,341.2 L440.7,340.9 L436.1,340.5 L431.7,340.0 L427.6,339.6 L423.6,339.1 L419.9,338.6 L416.3,338.0 L413.0,337.4 L409.8,336.9 L406.8,336.3 L404.0,335.6 L401.4,335.0 L398.8,334.4 L396.5,333.7 L394.2,333.0 L392.1,332.4 L390.0,331.7 L388.1,331.0 L386.3,330.3 M111.5,86.9 L110.8,87.7 L110.1,88.5 L109.4,89.3 L108.8,90.1 L108.1,90.9 L107.5,91.7 L106.9,92.6 L106.3,93.4 L105.8,94.2 L105.2,95.0 L104.7,95.8 L104.2,96.6 L103.6,97.4 L103.1,98.2 L102.6,99.0 L102.2,99.9 L101.7,100.7 L101.2,101.5 L100.8,102.3 L100.4,103.1 L99.9,103.9 L99.5,104.8 L99.1,105.6 L98.7,106.4 L98.3,107.2 L97.9,108.0 L97.5,108.9 L97.1,109.7 L96.8,110.5 L96.4,111.3 L96.0,112.2 L95.7,113.0 L95.4,113.8 L95.0,114.6 L94.7,115.4 L94.3,116.3 L94.0,117.1 L93.7,117.9 L93.4,118.8 L93.1,119.6 L92.8,120.4 L92.5,121.2 L92.2,122.1 L91.9,122.9 L91.6,123.7 L91.3,124.5 L91.0,125.4 L90.7,126.2 L90.5,127.0 L90.2,127.9 L89.9,128.7 L89.6,129.5 L89.4,130.4 L89.1,131.2 L88.9,132.0 L88.6,132.8 L88.3,133.7 L88.1,134.5 L87.8,135.3 L87.6,136.2 L87.4,137.0 L87.1,137.8 L86.9,138.7 L86.6,139.5 L86.4,140.3 L86.2,141.2 L86.0,141.8 M714.0,141.8 L713.9,142.0 L713.7,142.8 L713.5,143.7 L713.3,144.5 L713.0,145.3 L712.8,146.2 L712.6,147.0 L712.4,147.8 L712.2,148.7 L711.9,149.5 L711.7,150.3 L711.5,151.2 L711.3,152.0 L711.1,152.8 L710.9,153.7 L710.7,154.5 L710.5,155.3 L710.3,156.2 L710.1,157.0 L709.8,157.8 L709.6,158.7 L709.4,159.5 L709.2,160.4 L709.0,161.2 L708.8,162.0 L708.6,162.9 L708.5,163.7 L708.3,164.5 L708.1,165.4 L707.9,166.2 L707.7,167.0 L707.5,167.9 L707.3,168.7 L707.1,169.5 L706.9,170.4 L706.7,171.2 L706.5,172.0 L706.3,172.9 L706.2,173.7 L706.0,174.6 L705.8,175.4 L705.6,176.2 L705.4,177.1 L705.2,177.9 L705.0,178.7 L704.9,179.6 L704.7,180.4 L704.5,181.2 L704.3,182.1 L704.1,182.9 L703.9,183.8 L703.8,184.6 L703.6,185.4 L703.4,186.3 L703.2,187.1 L703.0,187.9 L702.9,188.8 L702.7,189.6 L702.5,190.4 L702.3,191.3 L702.1,192.1 L702.0,193.0 L701.8,193.8 L701.6,194.6 L701.4,195.5 L701.2,196.3 L701.1,197.1 L700.9,198.0 L700.7,198.8 L700.5,199.6 L700.4,200.5 L700.2,201.3 L700.0,202.2 L699.8,203.0 L699.6,203.8 L699.5,204.7 L699.3,205.5 L699.1,206.3 L698.9,207.2 L698.7,208.0 L698.6,208.8 L698.4,209.7 L698.2,210.5 L698.0,211.4 L697.8,212.2 L697.7,213.0 L697.5,213.9 L697.3,214.7 L697.1,215.5 L696.9,216.4 L696.8,217.2 L696.6,218.1 L696.4,218.9 L696.2,219.7 L696.0,220.6 L695.8,221.4 L695.7,222.2 L695.5,223.1 L695.3,223.9 L695.1,224.7 L694.9,225.6 L694.7,226.4 L694.5,227.2 L694.3,228.1 L694.2,228.9 L694.0,229.8 L693.8,230.6 L693.6,231.4 L693.4,232.3 L693.2,233.1 L693.0,233.9 L692.8,234.8 L692.6,235.6 L692.4,236.4 L692.2,237.3 L692.0,238.1 L691.8,238.9 L691.6,239.8 L691.4,240.6 L691.2,241.5 L691.0,242.3 L690.8,243.1 L690.6,244.0 L690.4,244.8 L690.2,245.6 L690.0,246.5 L689.8,247.3 L689.6,248.1 L689.4,249.0 L689.2,249.8 L688.9,250.6 L688.7,251.5 L688.5,252.3 L688.3,253.1 L688.1,254.0 L687.8,254.8 L687.6,255.6 L687.4,256.5 L687.2,257.3 L686.9,258.1 L686.7,259.0 L686.5,259.8 L686.2,260.6 L686.0,261.5 L685.8,262.3 L685.5,263.1 L685.3,264.0 L685.0,264.8 L684.8,265.6 L684.5,266.5 L684.3,267.3 L684.0,268.1 L683.8,268.9 L683.5,269.8 L683.2,270.6 L683.0,271.4 L682.7,272.3 L682.4,273.1 L682.1,273.9 L681.9,274.8 L681.6,275.6 L681.3,276.4 L681.0,277.2 L680.7,278.1 L680.4,278.9 L680.1,279.7 L679.8,280.5 L679.5,281.4 L679.2,282.2 L678.8,283.0 L678.5,283.9 L678.2,284.7 L677.8,285.5 L677.5,286.3 L677.2,287.2 L676.8,288.0 L676.4,288.8 L676.1,289.6 L675.7,290.4 L675.3,291.3 L675.0,292.1 L674.6,292.9 L674.2,293.7 L673.8,294.6 L673.3,295.4 L672.9,296.2 L672.5,297.0 L672.0,297.8 L671.6,298.6 L671.1,299.5 L670.7,300.3 L670.2,301.1 L669.7,301.9 L669.2,302.7 L668.7,303.5 L668.1,304.3 L667.6,305.1 L667.0,306.0 L666.5,306.8 L665.9,307.6 L665.3,308.4 L664.7,309.2 L664.0,310.0 L663.4,310.8 L662.7,311.6 L662.0,312.4 L661.3,313.2 L660.6,314.0 L659.8,314.8 L659.0,315.6 L658.2,316.4 L657.4,317.1 L656.5,317.9 L655.6,318.7 L654.6,319.5 L653.7,320.3 L652.7,321.0 L651.6,321.8 L650.5,322.6 L649.4,323.3 L648.2,324.1 L646.9,324.9 L645.7,325.6 L644.3,326.4 L642.9,327.1 L641.4,327.8 L639.9,328.6 L638.2,329.3 L636.5,330.0 L634.7,330.7 L632.8,331.4 L630.8,332.1 L628.7,332.8 L626.5,333.5 L624.2,334.1 L621.7,334.8 L619.1,335.4 L616.3,336.1 L613.4,336.7 L610.3,337.2 L607.0,337.8 L603.6,338.4 L599.9,338.9 L596.0,339.4 L591.9,339.9 L587.6,340.3 L583.1,340.7 L578.3,341.1 L573.3,341.5 L568.1,341.8 L562.7,342.0 L557.1,342.3 L551.4,342.4 L545.6,342.6 L539.7,342.7 L533.7,342.7 L527.7,342.7 L521.8,342.6 L515.9,342.5 L510.1,342.3 L504.5,342.1 L499.0,341.9 L493.8,341.6 L488.7,341.2 L483.9,340.9 L479.3,340.5 L474.9,340.0 L470.7,339.6 L466.7,339.1 L463.0,338.6 L459.5,338.0 L456.1,337.4 L453.0,336.9 L450.0,336.3 L447.2,335.6 L444.5,335.0 L442.0,334.4 L439.6,333.7 L437.3,333.0 L435.2,332.4 L433.2,331.7 L431.3,331.0 L429.4,330.3 M154.6,86.9 L153.9,87.7 L153.2,88.5 L152.6,89.3 L151.9,90.1 L151.3,90.9 L150.7,91.7 L150.1,92.6 L149.5,93.4 L148.9,94.2 L148.4,95.0 L147.8,95.8 L147.3,96.6 L146.8,97.4 L146.3,98.2 L145.8,99.0 L145.3,99.9 L144.8,100.7 L144.4,101.5 L143.9,102.3 L143.5,103.1 L143.1,103.9 L142.6,104.8 L142.2,105.6 L141.8,106.4 L141.4,107.2 L141.0,108.0 L140.6,108.9 L140.3,109.7 L139.9,110.5 L139.5,111.3 L139.2,112.2 L138.8,113.0 L138.5,113.8 L138.1,114.6 L137.8,115.4 L137.5,116.3 L137.2,117.1 L136.8,117.9 L136.5,118.8 L136.2,119.6 L135.9,120.4 L135.6,121.2 L135.3,122.1 L135.0,122.9 L134.7,123.7 L134.4,124.5 L134.1,125.4 L133.9,126.2 L133.6,127.0 L133.3,127.9 L133.0,128.7 L132.8,129.5 L132.5,130.4 L132.3,131.2 L132.0,132.0 L131.7,132.8 L131.5,133.7 L131.2,134.5 L131.0,135.3 L130.7,136.2 L130.5,137.0 L130.3,137.8 L130.0,138.7 L129.8,139.5 L129.5,140.3 L129.3,141.2 L129.1,142.0 L128.8,142.8 L128.6,143.7 L128.4,144.5 L128.2,145.3 L127.9,146.2 L127.7,147.0 L127.5,147.8 L127.3,148.7 L127.1,149.5 L126.9,150.3 L126.6,151.2 L126.4,152.0 L126.2,152.8 L126.0,153.7 L125.8,154.5 L125.6,155.3 L125.4,156.2 L125.2,157.0 L125.0,157.8 L124.8,158.7 L124.6,159.5 L124.4,160.4 L124.2,161.2 L124.0,162.0 L123.8,162.9 L123.6,163.7 L123.4,164.5 L123.2,165.4 L123.0,166.2 L122.8,167.0 L122.6,167.9 L122.4,168.7 L122.2,169.5 L122.0,170.4 L121.9,171.2 L121.7,172.0 L121.5,172.9 L121.3,173.7 L121.1,174.6 L120.9,175.4 L120.7,176.2 L120.5,177.1 L120.4,177.9 L120.2,178.7 L120.0,179.6 L119.8,180.4 L119.6,181.2 L119.4,182.1 L119.3,182.9 L119.1,183.8 L118.9,184.6 L118.7,185.4 L118.5,186.3 L118.4,187.1 L118.2,187.9 L118.0,188.8 L117.8,189.6 L117.6,190.4 L117.5,191.3 L117.3,192.1 L117.1,193.0 L116.9,193.8 L116.7,194.6 L116.6,195.5 L116.4,196.3 L116.2,197.1 L116.0,198.0 L115.8,198.8 L115.7,199.6 L115.5,200.5 L115.3,201.3 L115.1,202.2 L114.9,203.0 L114.8,203.8 L114.6,204.7 L114.4,205.5 L114.2,206.3 L114.1,207.2 L113.9,208.0 L113.7,208.8 L113.5,209.7 L113.3,210.5 L113.2,211.4 L113.0,212.2 L112.8,213.0 L112.6,213.9 L112.4,214.7 L112.3,215.5 L112.1,216.4 L111.9,217.2 L111.7,218.1 L111.5,218.9 L111.3,219.7 L111.2,220.6 L111.0,221.4 L110.8,222.2 L110.6,223.1 L110.4,223.9 L110.2,224.7 L110.0,225.6 L109.9,226.4 L109.7,227.2 L109.5,228.1 L109.3,228.9 L109.1,229.8 L108.9,230.6 L108.7,231.4 L108.5,232.3 L108.3,233.1 L108.1,233.9 L107.9,234.8 L107.8,235.6 L107.6,236.4 L107.4,237.3 L107.2,238.1 L107.0,238.9 L106.8,239.8 L106.6,240.6 L106.4,241.5 L106.2,242.3 L106.0,243.1 L105.8,244.0 L105.5,244.8 L105.3,245.6 L105.1,246.5 L104.9,247.3 L104.7,248.1 L104.5,249.0 L104.3,249.8 L104.1,250.6 L103.9,251.5 L103.6,252.3 L103.4,253.1 L103.2,254.0 L103.0,254.8 L102.8,255.6 L102.5,256.5 L102.3,257.3 L102.1,258.1 L101.8,259.0 L101.6,259.8 L101.4,260.6 L101.1,261.5 L100.9,262.3 L100.6,263.1 L100.4,264.0 L100.2,264.8 L99.9,265.6 L99.7,266.5 L99.4,267.3 L99.1,268.1 L98.9,268.9 L98.6,269.8 L98.4,270.6 L98.1,271.4 L97.8,272.3 L97.5,273.1 L97.3,273.9 L97.0,274.8 L96.7,275.6 L96.4,276.4 L96.1,277.2 L95.8,278.1 L95.5,278.9 L95.2,279.7 L94.9,280.5 L94.6,281.4 L94.3,282.2 L94.0,283.0 L93.6,283.9 L93.3,284.7 L93.0,285.5 L92.6,286.3 L92.3,287.2 L91.9,288.0 L91.6,288.8 L91.2,289.6 L90.8,290.4 L90.5,291.3 L90.1,292.1 L89.7,292.9 L89.3,293.7 L88.9,294.6 L88.5,295.4 L88.1,296.2 L87.6,297.0 L87.2,297.8 L86.7,298.6 L86.3,299.5 L86.0,299.9 M714.0,299.9 L713.8,300.3 L713.3,301.1 L712.8,301.9 L712.3,302.7 L711.8,303.5 L711.3,304.3 L710.7,305.1 L710.2,306.0 L709.6,306.8 L709.0,307.6 L708.4,308.4 L707.8,309.2 L707.2,310.0 L706.5,310.8 L705.8,311.6 L705.1,312.4 L704.4,313.2 L703.7,314.0 L702.9,314.8 L702.1,315.6 L701.3,316.4 L700.5,317.1 L699.6,317.9 L698.7,318.7 L697.8,319.5 L696.8,320.3 L695.8,321.0 L694.7,321.8 L693.6,322.6 L692.5,323.3 L691.3,324.1 L690.1,324.9 L688.8,325.6 L687.4,326.4 L686.0,327.1 L684.5,327.8 L683.0,328.6 L681.4,329.3 L679.7,330.0 L677.9,330.7 L676.0,331.4 L674.0,332.1 L671.9,332.8 L669.7,333.5 L667.3,334.1 L664.9,334.8 L662.2,335.4 L659.5,336.1 L656.5,336.7 L653.5,337.2 L650.2,337.8 L646.7,338.4 L643.0,338.9 L639.2,339.4 L635.1,339.9 L630.7,340.3 L626.2,340.7 L621.4,341.1 L616.4,341.5 L611.2,341.8 L605.9,342.0 L600.3,342.3 L594.6,342.4 L588.7,342.6 L582.8,342.7 L576.8,342.7 L570.8,342.7 L564.9,342.6 L559.0,342.5 L553.3,342.3 L547.6,342.1 L542.2,341.9 L536.9,341.6 L531.9,341.2 L527.0,340.9 L522.4,340.5 L518.0,340.0 L513.8,339.6 L509.9,339.1 L506.1,338.6 L502.6,338.0 L499.3,337.4 L496.1,336.9 L493.1,336.3 L490.3,335.6 L487.6,335.0 L485.1,334.4 L482.7,333.7 L480.5,333.0 L478.3,332.4 L476.3,331.7 L474.4,331.0 L472.6,330.3 M197.8,86.9 L197.1,87.7 L196.4,88.5 L195.7,89.3 L195.0,90.1 L194.4,90.9 L193.8,91.7 L193.2,92.6 L192.6,93.4 L192.0,94.2 L191.5,95.0 L190.9,95.8 L190.4,96.6 L189.9,97.4 L189.4,98.2 L188.9,99.0 L188.4,99.9 L188.0,100.7 L187.5,101.5 L187.1,102.3 L186.6,103.1 L186.2,103.9 L185.8,104.8 L185.4,105.6 L185.0,106.4 L184.6,107.2 L184.2,108.0 L183.8,108.9 L183.4,109.7 L183.0,110.5 L182.7,111.3 L182.3,112.2 L182.0,113.0 L181.6,113.8 L181.3,114.6 L180.9,115.4 L180.6,116.3 L180.3,117.1 L180.0,117.9 L179.7,118.8 L179.3,119.6 L179.0,120.4 L178.7,121.2 L178.4,122.1 L178.1,122.9 L177.8,123.7 L177.6,124.5 L177.3,125.4 L177.0,126.2 L176.7,127.0 L176.4,127.9 L176.2,128.7 L175.9,129.5 L175.6,130.4 L175.4,131.2 L175.1,132.0 L174.9,132.8 L174.6,133.7 L174.4,134.5 L174.1,135.3 L173.9,136.2 L173.6,137.0 L173.4,137.8 L173.1,138.7 L172.9,139.5 L172.7,140.3 L172.4,141.2 L172.2,142.0 L172.0,142.8 L171.7,143.7 L171.5,144.5 L171.3,145.3 L171.1,146.2 L170.9,147.0 L170.6,147.8 L170.4,148.7 L170.2,149.5 L170.0,150.3 L169.8,151.2 L169.6,152.0 L169.4,152.8 L169.1,153.7 L168.9,154.5 L168.7,155.3 L168.5,156.2 L168.3,157.0 L168.1,157.8 L167.9,158.7 L167.7,159.5 L167.5,160.4 L167.3,161.2 L167.1,162.0 L166.9,162.9 L166.7,163.7 L166.5,164.5 L166.3,165.4 L166.1,166.2 L165.9,167.0 L165.7,167.9 L165.6,168.7 L165.4,169.5 L165.2,170.4 L165.0,171.2 L164.8,172.0 L164.6,172.9 L164.4,173.7 L164.2,174.6 L164.0,175.4 L163.9,176.2 L163.7,177.1 L163.5,177.9 L163.3,178.7 L163.1,179.6 L162.9,180.4 L162.8,181.2 L162.6,182.1 L162.4,182.9 L162.2,183.8 L162.0,184.6 L161.8,185.4 L161.7,186.3 L161.5,187.1 L161.3,187.9 L161.1,188.8 L160.9,189.6 L160.8,190.4 L160.6,191.3 L160.4,192.1 L160.2,193.0 L160.0,193.8 L159.9,194.6 L159.7,195.5 L159.5,196.3 L159.3,197.1 L159.2,198.0 L159.0,198.8 L158.8,199.6 L158.6,200.5 L158.4,201.3 L158.3,202.2 L158.1,203.0 L157.9,203.8 L157.7,204.7 L157.5,205.5 L157.4,206.3 L157.2,207.2 L157.0,208.0 L156.8,208.8 L156.6,209.7 L156.5,210.5 L156.3,211.4 L156.1,212.2 L155.9,213.0 L155.7,213.9 L155.6,214.7 L155.4,215.5 L155.2,216.4 L155.0,217.2 L154.8,218.1 L154.7,218.9 L154.5,219.7 L154.3,220.6 L154.1,221.4 L153.9,222.2 L153.7,223.1 L153.6,223.9 L153.4,224.7 L153.2,225.6 L153.0,226.4 L152.8,227.2 L152.6,228.1 L152.4,228.9 L152.2,229.8 L152.0,230.6 L151.9,231.4 L151.7,232.3 L151.5,233.1 L151.3,233.9 L151.1,234.8 L150.9,235.6 L150.7,236.4 L150.5,237.3 L150.3,238.1 L150.1,238.9 L149.9,239.8 L149.7,240.6 L149.5,241.5 L149.3,242.3 L149.1,243.1 L148.9,244.0 L148.7,244.8 L148.5,245.6 L148.3,246.5 L148.1,247.3 L147.8,248.1 L147.6,249.0 L147.4,249.8 L147.2,250.6 L147.0,251.5 L146.8,252.3 L146.6,253.1 L146.3,254.0 L146.1,254.8 L145.9,255.6 L145.7,256.5 L145.4,257.3 L145.2,258.1 L145.0,259.0 L144.7,259.8 L144.5,260.6 L144.3,261.5 L144.0,262.3 L143.8,263.1 L143.5,264.0 L143.3,264.8 L143.0,265.6 L142.8,266.5 L142.5,267.3 L142.3,268.1 L142.0,268.9 L141.8,269.8 L141.5,270.6 L141.2,271.4 L141.0,272.3 L140.7,273.1 L140.4,273.9 L140.1,274.8 L139.8,275.6 L139.5,276.4 L139.3,277.2 L139.0,278.1 L138.7,278.9 L138.4,279.7 L138.1,280.5 L137.7,281.4 L137.4,282.2 L137.1,283.0 L136.8,283.9 L136.4,284.7 L136.1,285.5 L135.8,286.3 L135.4,287.2 L135.1,288.0 L134.7,288.8 L134.4,289.6 L134.0,290.4 L133.6,291.3 L133.2,292.1 L132.8,292.9 L132.4,293.7 L132.0,294.6 L131.6,295.4 L131.2,296.2 L130.8,297.0 L130.3,297.8 L129.9,298.6 L129.4,299.5 L128.9,300.3 L128.5,301.1 L128.0,301.9 L127.5,302.7 L126.9,303.5 L126.4,304.3 L125.9,305.1 L125.3,306.0 L124.7,306.8 L124.2,307.6 L123.6,308.4 L122.9,309.2 L122.3,310.0 L121.7,310.8 L121.0,311.6 L120.3,312.4 L119.6,313.2 L118.8,314.0 L118.1,314.8 L117.3,315.6 L116.5,316.4 L115.6,317.1 L114.7,317.9 L113.8,318.7 L112.9,319.5 L111.9,320.3 L110.9,321.0 L109.9,321.8 L108.8,322.6 L107.6,323.3 L106.5,324.1 L105.2,324.9 L103.9,325.6 L102.6,326.4 L101.2,327.1 L99.7,327.8 L98.1,328.6 L96.5,329.3 L94.8,330.0 L93.0,330.7 L91.1,331.4 L89.1,332.1 L87.0,332.8 L86.0,333.1 M714.0,333.1 L712.8,333.5 L710.5,334.1 L708.0,334.8 L705.4,335.4 L702.6,336.1 L699.7,336.7 L696.6,337.2 L693.3,337.8 L689.8,338.4 L686.2,338.9 L682.3,339.4 L678.2,339.9 L673.9,340.3 L669.3,340.7 L664.6,341.1 L659.6,341.5 L654.4,341.8 L649.0,342.0 L643.4,342.3 L637.7,342.4 L631.9,342.6 L625.9,342.7 L620.0,342.7 L614.0,342.7 L608.0,342.6 L602.2,342.5 L596.4,342.3 L590.8,342.1 L585.3,341.9 L580.0,341.6 L575.0,341.2 L570.1,340.9 L565.5,340.5 L561.1,340.0 L557.0,339.6 L553.0,339.1 L549.3,338.6 L545.7,338.0 L542.4,337.4 L539.2,336.9 L536.2,336.3 L533.4,335.6 L530.8,335.0 L528.3,334.4 L525.9,333.7 L523.6,333.0 L521.5,332.4 L519.4,331.7 L517.5,331.0 L515.7,330.3 M240.9,86.9 L240.2,87.7 L239.5,88.5 L238.8,89.3 L238.2,90.1 L237.5,90.9 L236.9,91.7 L236.3,92.6 L235.7,93.4 L235.2,94.2 L234.6,95.0 L234.1,95.8 L233.6,96.6 L233.0,97.4 L232.5,98.2 L232.0,99.0 L231.6,99.9 L231.1,100.7 L230.6,101.5 L230.2,102.3 L229.8,103.1 L229.3,103.9 L228.9,104.8 L228.5,105.6 L228.1,106.4 L227.7,107.2 L227.3,108.0 L226.9,108.9 L226.5,109.7 L226.2,110.5 L225.8,111.3 L225.4,112.2 L225.1,113.0 L224.8,113.8 L224.4,114.6 L224.1,115.4 L223.7,116.3 L223.4,117.1 L223.1,117.9 L222.8,118.8 L222.5,119.6 L222.2,120.4 L221.9,121.2 L221.6,122.1 L221.3,122.9 L221.0,123.7 L220.7,124.5 L220.4,125.4 L220.1,126.2 L219.9,127.0 L219.6,127.9 L219.3,128.7 L219.0,129.5 L218.8,130.4 L218.5,131.2 L218.3,132.0 L218.0,132.8 L217.7,133.7 L217.5,134.5 L217.2,135.3 L217.0,136.2 L216.8,137.0 L216.5,137.8 L216.3,138.7 L216.0,139.5 L215.8,140.3 L215.6,141.2 L215.3,142.0 L215.1,142.8 L214.9,143.7 L214.7,144.5 L214.4,145.3 L214.2,146.2 L214.0,147.0 L213.8,147.8 L213.6,148.7 L213.3,149.5 L213.1,150.3 L212.9,151.2 L212.7,152.0 L212.5,152.8 L212.3,153.7 L212.1,154.5 L211.9,155.3 L211.7,156.2 L211.5,157.0 L211.2,157.8 L211.0,158.7 L210.8,159.5 L210.6,160.4 L210.4,161.2 L210.2,162.0 L210.0,162.9 L209.9,163.7 L209.7,164.5 L209.5,165.4 L209.3,166.2 L209.1,167.0 L208.9,167.9 L208.7,168.7 L208.5,169.5 L208.3,170.4 L208.1,171.2 L207.9,172.0 L207.7,172.9 L207.6,173.7 L207.4,174.6 L207.2,175.4 L207.0,176.2 L206.8,177.1 L206.6,177.9 L206.4,178.7 L206.3,179.6 L206.1,180.4 L205.9,181.2 L205.7,182.1 L205.5,182.9 L205.3,183.8 L205.2,184.6 L205.0,185.4 L204.8,186.3 L204.6,187.1 L204.4,187.9 L204.3,188.8 L204.1,189.6 L203.9,190.4 L203.7,191.3 L203.5,192.1 L203.4,193.0 L203.2,193.8 L203.0,194.6 L202.8,195.5 L202.6,196.3 L202.5,197.1 L202.3,198.0 L202.1,198.8 L201.9,199.6 L201.8,200.5 L201.6,201.3 L201.4,202.2 L201.2,203.0 L201.0,203.8 L200.9,204.7 L200.7,205.5 L200.5,206.3 L200.3,207.2 L200.1,208.0 L200.0,208.8 L199.8,209.7 L199.6,210.5 L199.4,211.4 L199.2,212.2 L199.1,213.0 L198.9,213.9 L198.7,214.7 L198.5,215.5 L198.3,216.4 L198.2,217.2 L198.0,218.1 L197.8,218.9 L197.6,219.7 L197.4,220.6 L197.2,221.4 L197.1,222.2 L196.9,223.1 L196.7,223.9 L196.5,224.7 L196.3,225.6 L196.1,226.4 L195.9,227.2 L195.7,228.1 L195.6,228.9 L195.4,229.8 L195.2,230.6 L195.0,231.4 L194.8,232.3 L194.6,233.1 L194.4,233.9 L194.2,234.8 L194.0,235.6 L193.8,236.4 L193.6,237.3 L193.4,238.1 L193.2,238.9 L193.0,239.8 L192.8,240.6 L192.6,241.5 L192.4,242.3 L192.2,243.1 L192.0,244.0 L191.8,244.8 L191.6,245.6 L191.4,246.5 L191.2,247.3 L191.0,248.1 L190.8,249.0 L190.6,249.8 L190.3,250.6 L190.1,251.5 L189.9,252.3 L189.7,253.1 L189.5,254.0 L189.2,254.8 L189.0,255.6 L188.8,256.5 L188.6,257.3 L188.3,258.1 L188.1,259.0 L187.9,259.8 L187.6,260.6 L187.4,261.5 L187.2,262.3 L186.9,263.1 L186.7,264.0 L186.4,264.8 L186.2,265.6 L185.9,266.5 L185.7,267.3 L185.4,268.1 L185.2,268.9 L184.9,269.8 L184.6,270.6 L184.4,271.4 L184.1,272.3 L183.8,273.1 L183.5,273.9 L183.3,274.8 L183.0,275.6 L182.7,276.4 L182.4,277.2 L182.1,278.1 L181.8,278.9 L181.5,279.7 L181.2,280.5 L180.9,281.4 L180.6,282.2 L180.2,283.0 L179.9,283.9 L179.6,284.7 L179.2,285.5 L178.9,286.3 L178.6,287.2 L178.2,288.0 L177.8,288.8 L177.5,289.6 L177.1,290.4 L176.7,291.3 L176.4,292.1 L176.0,292.9 L175.6,293.7 L175.2,294.6 L174.7,295.4 L174.3,296.2 L173.9,297.0 L173.4,297.8 L173.0,298.6 L172.5,299.5 L172.1,300.3 L171.6,301.1 L171.1,301.9 L170.6,302.7 L170.1,303.5 L169.5,304.3 L169.0,305.1 L168.4,306.0 L167.9,306.8 L167.3,307.6 L166.7,308.4 L166.1,309.2 L165.4,310.0 L164.8,310.8 L164.1,311.6 L163.4,312.4 L162.7,313.2 L162.0,314.0 L161.2,314.8 L160.4,315.6 L159.6,316.4 L158.8,317.1 L157.9,317.9 L157.0,318.7 L156.0,319.5 L155.1,320.3 L154.1,321.0 L153.0,321.8 L151.9,322.6 L150.8,323.3 L149.6,324.1 L148.3,324.9 L147.1,325.6 L145.7,326.4 L144.3,327.1 L142.8,327.8 L141.3,328.6 L139.6,329.3 L137.9,330.0 L136.1,330.7 L134.2,331.4 L132.2,332.1 L130.1,332.8 L127.9,333.5 L125.6,334.1 L123.1,334.8 L120.5,335.4 L117.7,336.1 L114.8,336.7 L111.7,337.2 L108.4,337.8 L105.0,338.4 L101.3,338.9 L97.4,339.4 L93.3,339.9 L89.0,340.3 L86.0,340.6 M714.0,340.6 L712.5,340.7 L707.7,341.1 L702.7,341.5 L697.5,341.8 L692.1,342.0 L686.6,342.3 L680.8,342.4 L675.0,342.6 L669.1,342.7 L663.1,342.7 L657.1,342.7 L651.2,342.6 L645.3,342.5 L639.5,342.3 L633.9,342.1 L628.4,341.9 L623.2,341.6 L618.1,341.2 L613.3,340.9 L608.7,340.5 L604.3,340.0 L600.1,339.6 L596.1,339.1 L592.4,338.6 L588.9,338.0 L585.5,337.4 L582.4,336.9 L579.4,336.3 L576.6,335.6 L573.9,335.0 L571.4,334.4 L569.0,333.7 L566.7,333.0 L564.6,332.4 L562.6,331.7 L560.7,331.0 L558.8,330.3 M284.0,86.9 L283.3,87.7 L282.6,88.5 L282.0,89.3 L281.3,90.1 L280.7,90.9 L280.1,91.7 L279.5,92.6 L278.9,93.4 L278.3,94.2 L277.8,95.0 L277.2,95.8 L276.7,96.6 L276.2,97.4 L275.7,98.2 L275.2,99.0 L274.7,99.9 L274.2,100.7 L273.8,101.5 L273.3,102.3 L272.9,103.1 L272.5,103.9 L272.0,104.8 L271.6,105.6 L271.2,106.4 L270.8,107.2 L270.4,108.0 L270.0,108.9 L269.7,109.7 L269.3,110.5 L268.9,111.3 L268.6,112.2 L268.2,113.0 L267.9,113.8 L267.5,114.6 L267.2,115.4 L266.9,116.3 L266.6,117.1 L266.2,117.9 L265.9,118.8 L265.6,119.6 L265.3,120.4 L265.0,121.2 L264.7,122.1 L264.4,122.9 L264.1,123.7 L263.8,124.5 L263.5,125.4 L263.3,126.2 L263.0,127.0 L262.7,127.9 L262.4,128.7 L262.2,129.5 L261.9,130.4 L261.7,131.2 L261.4,132.0 L261.1,132.8 L260.9,133.7 L260.6,134.5 L260.4,135.3 L260.1,136.2 L259.9,137.0 L259.7,137.8 L259.4,138.7 L259.2,139.5 L258.9,140.3 L258.7,141.2 L258.5,142.0 L258.2,142.8 L258.0,143.7 L257.8,144.5 L257.6,145.3 L257.3,146.2 L257.1,147.0 L256.9,147.8 L256.7,148.7 L256.5,149.5 L256.3,150.3 L256.0,151.2 L255.8,152.0 L255.6,152.8 L255.4,153.7 L255.2,154.5 L255.0,155.3 L254.8,156.2 L254.6,157.0 L254.4,157.8 L254.2,158.7 L254.0,159.5 L253.8,160.4 L253.6,161.2 L253.4,162.0 L253.2,162.9 L253.0,163.7 L252.8,164.5 L252.6,165.4 L252.4,166.2 L252.2,167.0 L252.0,167.9 L251.8,168.7 L251.6,169.5 L251.4,170.4 L251.3,171.2 L251.1,172.0 L250.9,172.9 L250.7,173.7 L250.5,174.6 L250.3,175.4 L250.1,176.2 L249.9,177.1 L249.8,177.9 L249.6,178.7 L249.4,179.6 L249.2,180.4 L249.0,181.2 L248.8,182.1 L248.7,182.9 L248.5,183.8 L248.3,184.6 L248.1,185.4 L247.9,186.3 L247.8,187.1 L247.6,187.9 L247.4,188.8 L247.2,189.6 L247.0,190.4 L246.9,191.3 L246.7,192.1 L246.5,193.0 L246.3,193.8 L246.1,194.6 L246.0,195.5 L245.8,196.3 L245.6,197.1 L245.4,198.0 L245.2,198.8 L245.1,199.6 L244.9,200.5 L244.7,201.3 L244.5,202.2 L244.3,203.0 L244.2,203.8 L244.0,204.7 L243.8,205.5 L243.6,206.3 L243.5,207.2 L243.3,208.0 L243.1,208.8 L242.9,209.7 L242.7,210.5 L242.6,211.4 L242.4,212.2 L242.2,213.0 L242.0,213.9 L241.8,214.7 L241.7,215.5 L241.5,216.4 L241.3,217.2 L241.1,218.1 L240.9,218.9 L240.7,219.7 L240.6,220.6 L240.4,221.4 L240.2,222.2 L240.0,223.1 L239.8,223.9 L239.6,224.7 L239.4,225.6 L239.3,226.4 L239.1,227.2 L238.9,228.1 L238.7,228.9 L238.5,229.8 L238.3,230.6 L238.1,231.4 L237.9,232.3 L237.7,233.1 L237.5,233.9 L237.4,234.8 L237.2,235.6 L237.0,236.4 L236.8,237.3 L236.6,238.1 L236.4,238.9 L236.2,239.8 L236.0,240.6 L235.8,241.5 L235.6,242.3 L235.4,243.1 L235.2,244.0 L234.9,244.8 L234.7,245.6 L234.5,246.5 L234.3,247.3 L234.1,248.1 L233.9,249.0 L233.7,249.8 L233.5,250.6 L233.3,251.5 L233.0,252.3 L232.8,253.1 L232.6,254.0 L232.4,254.8 L232.2,255.6 L231.9,256.5 L231.7,257.3 L231.5,258.1 L231.2,259.0 L231.0,259.8 L230.8,260.6 L230.5,261.5 L230.3,262.3 L230.0,263.1 L229.8,264.0 L229.6,264.8 L229.3,265.6 L229.1,266.5 L228.8,267.3 L228.5,268.1 L228.3,268.9 L228.0,269.8 L227.8,270.6 L227.5,271.4 L227.2,272.3 L226.9,273.1 L226.7,273.9 L226.4,274.8 L226.1,275.6 L225.8,276.4 L225.5,277.2 L225.2,278.1 L224.9,278.9 L224.6,279.7 L224.3,280.5 L224.0,281.4 L223.7,282.2 L223.4,283.0 L223.0,283.9 L222.7,284.7 L222.4,285.5 L222.0,286.3 L221.7,287.2 L221.3,288.0 L221.0,288.8 L220.6,289.6 L220.2,290.4 L219.9,291.3 L219.5,292.1 L219.1,292.9 L218.7,293.7 L218.3,294.6 L217.9,295.4 L217.5,296.2 L217.0,297.0 L216.6,297.8 L216.1,298.6 L215.7,299.5 L215.2,300.3 L214.7,301.1 L214.2,301.9 L213.7,302.7 L213.2,303.5 L212.7,304.3 L212.1,305.1 L211.6,306.0 L211.0,306.8 L210.4,307.6 L209.8,308.4 L209.2,309.2 L208.6,310.0 L207.9,310.8 L207.2,311.6 L206.6,312.4 L205.8,313.2 L205.1,314.0 L204.3,314.8 L203.5,315.6 L202.7,316.4 L201.9,317.1 L201.0,317.9 L200.1,318.7 L199.2,319.5 L198.2,320.3 L197.2,321.0 L196.1,321.8 L195.0,322.6 L193.9,323.3 L192.7,324.1 L191.5,324.9 L190.2,325.6 L188.8,326.4 L187.4,327.1 L185.9,327.8 L184.4,328.6 L182.8,329.3 L181.1,330.0 L179.3,330.7 L177.4,331.4 L175.4,332.1 L173.3,332.8 L171.1,333.5 L168.7,334.1 L166.3,334.8 L163.6,335.4 L160.9,336.1 L157.9,336.7 L154.9,337.2 L151.6,337.8 L148.1,338.4 L144.4,338.9 L140.6,339.4 L136.5,339.9 L132.1,340.3 L127.6,340.7 L122.8,341.1 L117.8,341.5 L112.6,341.8 L107.3,342.0 L101.7,342.3 L96.0,342.4 L90.1,342.6 L86.0,342.6 M714.0,342.6 L712.2,342.7 L706.2,342.7 L700.2,342.7 L694.3,342.6 L688.4,342.5 L682.7,342.3 L677.0,342.1 L671.6,341.9 L666.3,341.6 L661.3,341.2 L656.4,340.9 L651.8,340.5 L647.4,340.0 L643.2,339.6 L639.3,339.1 L635.5,338.6 L632.0,338.0 L628.7,337.4 L625.5,336.9 L622.5,336.3 L619.7,335.6 L617.0,335.0 L614.5,334.4 L612.1,333.7 L609.9,333.0 L607.7,332.4 L605.7,331.7 L603.8,331.0 L602.0,330.3 M327.2,86.9 L326.5,87.7 L325.8,88.5 L325.1,89.3 L324.4,90.1 L323.8,90.9 L323.2,91.7 L322.6,92.6 L322.0,93.4 L321.4,94.2 L320.9,95.0 L320.3,95.8 L319.8,96.6 L319.3,97.4 L318.8,98.2 L318.3,99.0 L317.8,99.9 L317.4,100.7 L316.9,101.5 L316.5,102.3 L316.0,103.1 L315.6,103.9 L315.2,104.8 L314.8,105.6 L314.4,106.4 L314.0,107.2 L313.6,108.0 L313.2,108.9 L312.8,109.7 L312.4,110.5 L312.1,111.3 L311.7,112.2 L311.4,113.0 L311.0,113.8 L310.7,114.6 L310.3,115.4 L310.0,116.3 L309.7,117.1 L309.4,117.9 L309.1,118.8 L308.7,119.6 L308.4,120.4 L308.1,121.2 L307.8,122.1 L307.5,122.9 L307.2,123.7 L307.0,124.5 L306.7,125.4 L306.4,126.2 L306.1,127.0 L305.8,127.9 L305.6,128.7 L305.3,129.5 L305.0,130.4 L304.8,131.2 L304.5,132.0 L304.3,132.8 L304.0,133.7 L303.8,134.5 L303.5,135.3 L303.3,136.2 L303.0,137.0 L302.8,137.8 L302.5,138.7 L302.3,139.5 L302.1,140.3 L301.8,141.2 L301.6,142.0 L301.4,142.8 L301.2,143.7 L300.9,144.5 L300.7,145.3 L300.5,146.2 L300.3,147.0 L300.0,147.8 L299.8,148.7 L299.6,149.5 L299.4,150.3 L299.2,151.2 L299.0,152.0 L298.8,152.8 L298.5,153.7 L298.3,154.5 L298.1,155.3 L297.9,156.2 L297.7,157.0 L297.5,157.8 L297.3,158.7 L297.1,159.5 L296.9,160.4 L296.7,161.2 L296.5,162.0 L296.3,162.9 L296.1,163.7 L295.9,164.5 L295.7,165.4 L295.5,166.2 L295.3,167.0 L295.2,167.9 L295.0,168.7 L294.8,169.5 L294.6,170.4 L294.4,171.2 L294.2,172.0 L294.0,172.9 L293.8,173.7 L293.6,174.6 L293.5,175.4 L293.3,176.2 L293.1,177.1 L292.9,177.9 L292.7,178.7 L292.5,179.6 L292.3,180.4 L292.2,181.2 L292.0,182.1 L291.8,182.9 L291.6,183.8 L291.4,184.6 L291.2,185.4 L291.1,186.3 L290.9,187.1 L290.7,187.9 L290.5,188.8 L290.3,189.6 L290.2,190.4 L290.0,191.3 L289.8,192.1 L289.6,193.0 L289.4,193.8 L289.3,194.6 L289.1,195.5 L288.9,196.3 L288.7,197.1 L288.6,198.0 L288.4,198.8 L288.2,199.6 L288.0,200.5 L287.8,201.3 L287.7,202.2 L287.5,203.0 L287.3,203.8 L287.1,204.7 L286.9,205.5 L286.8,206.3 L286.6,207.2 L286.4,208.0 L286.2,208.8 L286.1,209.7 L285.9,210.5 L285.7,211.4 L285.5,212.2 L285.3,213.0 L285.1,213.9 L285.0,214.7 L284.8,215.5 L284.6,216.4 L284.4,217.2 L284.2,218.1 L284.1,218.9 L283.9,219.7 L283.7,220.6 L283.5,221.4 L283.3,222.2 L283.1,223.1 L283.0,223.9 L282.8,224.7 L282.6,225.6 L282.4,226.4 L282.2,227.2 L282.0,228.1 L281.8,228.9 L281.6,229.8 L281.4,230.6 L281.3,231.4 L281.1,232.3 L280.9,233.1 L280.7,233.9 L280.5,234.8 L280.3,235.6 L280.1,236.4 L279.9,237.3 L279.7,238.1 L279.5,238.9 L279.3,239.8 L279.1,240.6 L278.9,241.5 L278.7,242.3 L278.5,243.1 L278.3,244.0 L278.1,244.8 L277.9,245.6 L277.7,246.5 L277.5,247.3 L277.2,248.1 L277.0,249.0 L276.8,249.8 L276.6,250.6 L276.4,251.5 L276.2,252.3 L276.0,253.1 L275.7,254.0 L275.5,254.8 L275.3,255.6 L275.1,256.5 L274.8,257.3 L274.6,258.1 L274.4,259.0 L274.1,259.8 L273.9,260.6 L273.7,261.5 L273.4,262.3 L273.2,263.1 L272.9,264.0 L272.7,264.8 L272.4,265.6 L272.2,266.5 L271.9,267.3 L271.7,268.1 L271.4,268.9 L271.2,269.8 L270.9,270.6 L270.6,271.4 L270.4,272.3 L270.1,273.1 L269.8,273.9 L269.5,274.8 L269.2,275.6 L269.0,276.4 L268.7,277.2 L268.4,278.1 L268.1,278.9 L267.8,279.7 L267.5,280.5 L267.1,281.4 L266.8,282.2 L266.5,283.0 L266.2,283.9 L265.8,284.7 L265.5,285.5 L265.2,286.3 L264.8,287.2 L264.5,288.0 L264.1,288.8 L263.8,289.6 L263.4,290.4 L263.0,291.3 L262.6,292.1 L262.2,292.9 L261.8,293.7 L261.4,294.6 L261.0,295.4 L260.6,296.2 L260.2,297.0 L259.7,297.8 L259.3,298.6 L258.8,299.5 L258.3,300.3 L257.9,301.1 L257.4,301.9 L256.9,302.7 L256.3,303.5 L255.8,304.3 L255.3,305.1 L254.7,306.0 L254.1,306.8 L253.6,307.6 L253.0,308.4 L252.3,309.2 L251.7,310.0 L251.1,310.8 L250.4,311.6 L249.7,312.4 L249.0,313.2 L248.2,314.0 L247.5,314.8 L246.7,315.6 L245.9,316.4 L245.0,317.1 L244.1,317.9 L243.2,318.7 L242.3,319.5 L241.3,320.3 L240.3,321.0 L239.3,321.8 L238.2,322.6 L237.0,323.3 L235.9,324.1 L234.6,324.9 L233.3,325.6 L232.0,326.4 L230.6,327.1 L229.1,327.8 L227.5,328.6 L225.9,329.3 L224.2,330.0 L222.4,330.7 L220.5,331.4 L218.5,332.1 L216.4,332.8 L214.2,333.5 L211.9,334.1 L209.4,334.8 L206.8,335.4 L204.0,336.1 L201.1,336.7 L198.0,337.2 L194.7,337.8 L191.2,338.4 L187.6,338.9 L183.7,339.4 L179.6,339.9 L175.3,340.3 L170.7,340.7 L166.0,341.1 L161.0,341.5 L155.8,341.8 L150.4,342.0 L144.8,342.3 L139.1,342.4 L133.3,342.6 L127.3,342.7 L121.4,342.7 L115.4,342.7 L109.4,342.6 L103.6,342.5 L97.8,342.3 L92.2,342.1 L86.7,341.9 L86.0,341.8 M714.0,341.8 L709.4,341.6 L704.4,341.2 L699.5,340.9 L694.9,340.5 L690.5,340.0 L686.4,339.6 L682.4,339.1 L678.7,338.6 L675.1,338.0 L671.8,337.4 L668.6,336.9 L665.6,336.3 L662.8,335.6 L660.2,335.0 L657.7,334.4 L655.3,333.7 L653.0,333.0 L650.9,332.4 L648.8,331.7 L646.9,331.0 L645.1,330.3 M370.3,86.9 L369.6,87.7 L368.9,88.5 L368.2,89.3 L367.6,90.1 L366.9,90.9 L366.3,91.7 L365.7,92.6 L365.1,93.4 L364.6,94.2 L364.0,95.0 L363.5,95.8 L363.0,96.6 L362.4,97.4 L361.9,98.2 L361.4,99.0 L361.0,99.9 L360.5,100.7 L360.0,101.5 L359.6,102.3 L359.2,103.1 L358.7,103.9 L358.3,104.8 L357.9,105.6 L357.5,106.4 L357.1,107.2 L356.7,108.0 L356.3,108.9 L355.9,109.7 L355.6,110.5 L355.2,111.3 L354.8,112.2 L354.5,113.0 L354.2,113.8 L353.8,114.6 L353.5,115.4 L353.1,116.3 L352.8,117.1 L352.5,117.9 L352.2,118.8 L351.9,119.6 L351.6,120.4 L351.3,121.2 L351.0,122.1 L350.7,122.9 L350.4,123.7 L350.1,124.5 L349.8,125.4 L349.5,126.2 L349.3,127.0 L349.0,127.9 L348.7,128.7 L348.4,129.5 L348.2,130.4 L347.9,131.2 L347.7,132.0 L347.4,132.8 L347.1,133.7 L346.9,134.5 L346.6,135.3 L346.4,136.2 L346.2,137.0 L345.9,137.8 L345.7,138.7 L345.4,139.5 L345.2,140.3 L345.0,141.2 L344.7,142.0 L344.5,142.8 L344.3,143.7 L344.1,144.5 L343.8,145.3 L343.6,146.2 L343.4,147.0 L343.2,147.8 L343.0,148.7 L342.7,149.5 L342.5,150.3 L342.3,151.2 L342.1,152.0 L341.9,152.8 L341.7,153.7 L341.5,154.5 L341.3,155.3 L341.1,156.2 L340.9,157.0 L340.6,157.8 L340.4,158.7 L340.2,159.5 L340.0,160.4 L339.8,161.2 L339.6,162.0 L339.5,162.9 L339.3,163.7 L339.1,164.5 L338.9,165.4 L338.7,166.2 L338.5,167.0 L338.3,167.9 L338.1,168.7 L337.9,169.5 L337.7,170.4 L337.5,171.2 L337.3,172.0 L337.1,172.9 L337.0,173.7 L336.8,174.6 L336.6,175.4 L336.4,176.2 L336.2,177.1 L336.0,177.9 L335.8,178.7 L335.7,179.6 L335.5,180.4 L335.3,181.2 L335.1,182.1 L334.9,182.9 L334.7,183.8 L334.6,184.6 L334.4,185.4 L334.2,186.3 L334.0,187.1 L333.8,187.9 L333.7,188.8 L333.5,189.6 L333.3,190.4 L333.1,191.3 L332.9,192.1 L332.8,193.0 L332.6,193.8 L332.4,194.6 L332.2,195.5 L332.0,196.3 L331.9,197.1 L331.7,198.0 L331.5,198.8 L331.3,199.6 L331.2,200.5 L331.0,201.3 L330.8,202.2 L330.6,203.0 L330.4,203.8 L330.3,204.7 L330.1,205.5 L329.9,206.3 L329.7,207.2 L329.5,208.0 L329.4,208.8 L329.2,209.7 L329.0,210.5 L328.8,211.4 L328.6,212.2 L328.5,213.0 L328.3,213.9 L328.1,214.7 L327.9,215.5 L327.7,216.4 L327.6,217.2 L327.4,218.1 L327.2,218.9 L327.0,219.7 L326.8,220.6 L326.6,221.4 L326.5,222.2 L326.3,223.1 L326.1,223.9 L325.9,224.7 L325.7,225.6 L325.5,226.4 L325.3,227.2 L325.1,228.1 L325.0,228.9 L324.8,229.8 L324.6,230.6 L324.4,231.4 L324.2,232.3 L324.0,233.1 L323.8,233.9 L323.6,234.8 L323.4,235.6 L323.2,236.4 L323.0,237.3 L322.8,238.1 L322.6,238.9 L322.4,239.8 L322.2,240.6 L322.0,241.5 L321.8,242.3 L321.6,243.1 L321.4,244.0 L321.2,244.8 L321.0,245.6 L320.8,246.5 L320.6,247.3 L320.4,248.1 L320.2,249.0 L320.0,249.8 L319.7,250.6 L319.5,251.5 L319.3,252.3 L319.1,253.1 L318.9,254.0 L318.6,254.8 L318.4,255.6 L318.2,256.5 L318.0,257.3 L317.7,258.1 L317.5,259.0 L317.3,259.8 L317.0,260.6 L316.8,261.5 L316.6,262.3 L316.3,263.1 L316.1,264.0 L315.8,264.8 L315.6,265.6 L315.3,266.5 L315.1,267.3 L314.8,268.1 L314.6,268.9 L314.3,269.8 L314.0,270.6 L313.8,271.4 L313.5,272.3 L313.2,273.1 L312.9,273.9 L312.7,274.8 L312.4,275.6 L312.1,276.4 L311.8,277.2 L311.5,278.1 L311.2,278.9 L310.9,279.7 L310.6,280.5 L310.3,281.4 L310.0,282.2 L309.6,283.0 L309.3,283.9 L309.0,284.7 L308.6,285.5 L308.3,286.3 L308.0,287.2 L307.6,288.0 L307.2,288.8 L306.9,289.6 L306.5,290.4 L306.1,291.3 L305.8,292.1 L305.4,292.9 L305.0,293.7 L304.6,294.6 L304.1,295.4 L303.7,296.2 L303.3,297.0 L302.8,297.8 L302.4,298.6 L301.9,299.5 L301.5,300.3 L301.0,301.1 L300.5,301.9 L300.0,302.7 L299.5,303.5 L298.9,304.3 L298.4,305.1 L297.9,306.0 L297.3,306.8 L296.7,307.6 L296.1,308.4 L295.5,309.2 L294.8,310.0 L294.2,310.8 L293.5,311.6 L292.8,312.4 L292.1,313.2 L291.4,314.0 L290.6,314.8 L289.8,315.6 L289.0,316.4 L288.2,317.1 L287.3,317.9 L286.4,318.7 L285.4,319.5 L284.5,320.3 L283.5,321.0 L282.4,321.8 L281.3,322.6 L280.2,323.3 L279.0,324.1 L277.7,324.9 L276.5,325.6 L275.1,326.4 L273.7,327.1 L272.2,327.8 L270.7,328.6 L269.0,329.3 L267.3,330.0 L265.5,330.7 L263.6,331.4 L261.6,332.1 L259.5,332.8 L257.3,333.5 L255.0,334.1 L252.5,334.8 L249.9,335.4 L247.1,336.1 L244.2,336.7 L241.1,337.2 L237.8,337.8 L234.4,338.4 L230.7,338.9 L226.8,339.4 L222.7,339.9 L218.4,340.3 L213.9,340.7 L209.1,341.1 L204.1,341.5 L198.9,341.8 L193.5,342.0 L188.0,342.3 L182.2,342.4 L176.4,342.6 L170.5,342.7 L164.5,342.7 L158.5,342.7 L152.6,342.6 L146.7,342.5 L140.9,342.3 L135.3,342.1 L129.8,341.9 L124.6,341.6 L119.5,341.2 L114.7,340.9 L110.1,340.5 L105.7,340.0 L101.5,339.6 L97.5,339.1 L93.8,338.6 L90.3,338.0 L86.9,337.4 L86.0,337.3 M714.0,337.3 L711.8,336.9 L708.8,336.3 L706.0,335.6 L703.3,335.0 L700.8,334.4 L698.4,333.7 L696.1,333.0 L694.0,332.4 L692.0,331.7 L690.1,331.0 L688.2,330.3 M413.4,86.9 L412.7,87.7 L412.0,88.5 L411.4,89.3 L410.7,90.1 L410.1,90.9 L409.5,91.7 L408.9,92.6 L408.3,93.4 L407.7,94.2 L407.2,95.0 L406.6,95.8 L406.1,96.6 L405.6,97.4 L405.1,98.2 L404.6,99.0 L404.1,99.9 L403.6,100.7 L403.2,101.5 L402.7,102.3 L402.3,103.1 L401.9,103.9 L401.4,104.8 L401.0,105.6 L400.6,106.4 L400.2,107.2 L399.8,108.0 L399.4,108.9 L399.1,109.7 L398.7,110.5 L398.3,111.3 L398.0,112.2 L397.6,113.0 L397.3,113.8 L396.9,114.6 L396.6,115.4 L396.3,116.3 L396.0,117.1 L395.6,117.9 L395.3,118.8 L395.0,119.6 L394.7,120.4 L394.4,121.2 L394.1,122.1 L393.8,122.9 L393.5,123.7 L393.2,124.5 L392.9,125.4 L392.7,126.2 L392.4,127.0 L392.1,127.9 L391.8,128.7 L391.6,129.5 L391.3,130.4 L391.1,131.2 L390.8,132.0 L390.5,132.8 L390.3,133.7 L390.0,134.5 L389.8,135.3 L389.5,136.2 L389.3,137.0 L389.1,137.8 L388.8,138.7 L388.6,139.5 L388.3,140.3 L388.1,141.2 L387.9,142.0 L387.6,142.8 L387.4,143.7 L387.2,144.5 L387.0,145.3 L386.7,146.2 L386.5,147.0 L386.3,147.8 L386.1,148.7 L385.9,149.5 L385.7,150.3 L385.4,151.2 L385.2,152.0 L385.0,152.8 L384.8,153.7 L384.6,154.5 L384.4,155.3 L384.2,156.2 L384.0,157.0 L383.8,157.8 L383.6,158.7 L383.4,159.5 L383.2,160.4 L383.0,161.2 L382.8,162.0 L382.6,162.9 L382.4,163.7 L382.2,164.5 L382.0,165.4 L381.8,166.2 L381.6,167.0 L381.4,167.9 L381.2,168.7 L381.0,169.5 L380.8,170.4 L380.7,171.2 L380.5,172.0 L380.3,172.9 L380.1,173.7 L379.9,174.6 L379.7,175.4 L379.5,176.2 L379.3,177.1 L379.2,177.9 L379.0,178.7 L378.8,179.6 L378.6,180.4 L378.4,181.2 L378.2,182.1 L378.1,182.9 L377.9,183.8 L377.7,184.6 L377.5,185.4 L377.3,186.3 L377.2,187.1 L377.0,187.9 L376.8,188.8 L376.6,189.6 L376.4,190.4 L376.3,191.3 L376.1,192.1 L375.9,193.0 L375.7,193.8 L375.5,194.6 L375.4,195.5 L375.2,196.3 L375.0,197.1 L374.8,198.0 L374.6,198.8 L374.5,199.6 L374.3,200.5 L374.1,201.3 L373.9,202.2 L373.8,203.0 L373.6,203.8 L373.4,204.7 L373.2,205.5 L373.0,206.3 L372.9,207.2 L372.7,208.0 L372.5,208.8 L372.3,209.7 L372.1,210.5 L372.0,211.4 L371.8,212.2 L371.6,213.0 L371.4,213.9 L371.2,214.7 L371.1,215.5 L370.9,216.4 L370.7,217.2 L370.5,218.1 L370.3,218.9 L370.1,219.7 L370.0,220.6 L369.8,221.4 L369.6,222.2 L369.4,223.1 L369.2,223.9 L369.0,224.7 L368.8,225.6 L368.7,226.4 L368.5,227.2 L368.3,228.1 L368.1,228.9 L367.9,229.8 L367.7,230.6 L367.5,231.4 L367.3,232.3 L367.1,233.1 L366.9,233.9 L366.8,234.8 L366.6,235.6 L366.4,236.4 L366.2,237.3 L366.0,238.1 L365.8,238.9 L365.6,239.8 L365.4,240.6 L365.2,241.5 L365.0,242.3 L364.8,243.1 L364.6,244.0 L364.4,244.8 L364.1,245.6 L363.9,246.5 L363.7,247.3 L363.5,248.1 L363.3,249.0 L363.1,249.8 L362.9,250.6 L362.7,251.5 L362.4,252.3 L362.2,253.1 L362.0,254.0 L361.8,254.8 L361.6,255.6 L361.3,256.5 L361.1,257.3 L360.9,258.1 L360.6,259.0 L360.4,259.8 L360.2,260.6 L359.9,261.5 L359.7,262.3 L359.4,263.1 L359.2,264.0 L359.0,264.8 L358.7,265.6 L358.5,266.5 L358.2,267.3 L357.9,268.1 L357.7,268.9 L357.4,269.8 L357.2,270.6 L356.9,271.4 L356.6,272.3 L356.3,273.1 L356.1,273.9 L355.8,274.8 L355.5,275.6 L355.2,276.4 L354.9,277.2 L354.6,278.1 L354.3,278.9 L354.0,279.7 L353.7,280.5 L353.4,281.4 L353.1,282.2 L352.8,283.0 L352.4,283.9 L352.1,284.7 L351.8,285.5 L351.4,286.3 L351.1,287.2 L350.7,288.0 L350.4,288.8 L350.0,289.6 L349.6,290.4 L349.3,291.3 L348.9,292.1 L348.5,292.9 L348.1,293.7 L347.7,294.6 L347.3,295.4 L346.9,296.2 L346.4,297.0 L346.0,297.8 L345.5,298.6 L345.1,299.5 L344.6,300.3 L344.1,301.1 L343.6,301.9 L343.1,302.7 L342.6,303.5 L342.1,304.3 L341.5,305.1 L341.0,306.0 L340.4,306.8 L339.8,307.6 L339.2,308.4 L338.6,309.2 L338.0,310.0 L337.3,310.8 L336.6,311.6 L336.0,312.4 L335.2,313.2 L334.5,314.0 L333.7,314.8 L332.9,315.6 L332.1,316.4 L331.3,317.1 L330.4,317.9 L329.5,318.7 L328.6,319.5 L327.6,320.3 L326.6,321.0 L325.5,321.8 L324.4,322.6 L323.3,323.3 L322.1,324.1 L320.9,324.9 L319.6,325.6 L318.2,326.4 L316.8,327.1 L315.3,327.8 L313.8,328.6 L312.2,329.3 L310.5,330.0 L308.7,330.7 L306.8,331.4 L304.8,332.1 L302.7,332.8 L300.5,333.5 L298.1,334.1 L295.7,334.8 L293.0,335.4 L290.3,336.1 L287.4,336.7 L284.3,337.2 L281.0,337.8 L277.5,338.4 L273.8,338.9 L270.0,339.4 L265.9,339.9 L261.5,340.3 L257.0,340.7 L252.2,341.1 L247.2,341.5 L242.0,341.8 L236.7,342.0 L231.1,342.3 L225.4,342.4 L219.5,342.6 L213.6,342.7 L207.6,342.7 L201.6,342.7 L195.7,342.6 L189.8,342.5 L184.1,342.3 L178.4,342.1 L173.0,341.9 L167.7,341.6 L162.7,341.2 L157.8,340.9 L153.2,340.5 L148.8,340.0 L144.6,339.6 L140.7,339.1 L136.9,338.6 L133.4,338.0 L130.1,337.4 L126.9,336.9 L123.9,336.3 L121.1,335.6 L118.4,335.0 L115.9,334.4 L113.5,333.7 L111.3,333.0 L109.1,332.4 L107.1,331.7 L105.2,331.0 L103.4,330.3 M456.6,86.9 L455.9,87.7 L455.2,88.5 L454.5,89.3 L453.8,90.1 L453.2,90.9 L452.6,91.7 L452.0,92.6 L451.4,93.4 L450.8,94.2 L450.3,95.0 L449.7,95.8 L449.2,96.6 L448.7,97.4 L448.2,98.2 L447.7,99.0 L447.2,99.9 L446.8,100.7 L446.3,101.5 L445.9,102.3 L445.4,103.1 L445.0,103.9 L444.6,104.8 L444.2,105.6 L443.8,106.4 L443.4,107.2 L443.0,108.0 L442.6,108.9 L442.2,109.7 L441.8,110.5 L441.5,111.3 L441.1,112.2 L440.8,113.0 L440.4,113.8 L440.1,114.6 L439.7,115.4 L439.4,116.3 L439.1,117.1 L438.8,117.9 L438.5,118.8 L438.1,119.6 L437.8,120.4 L437.5,121.2 L437.2,122.1 L436.9,122.9 L436.7,123.7 L436.4,124.5 L436.1,125.4 L435.8,126.2 L435.5,127.0 L435.2,127.9 L435.0,128.7 L434.7,129.5 L434.4,130.4 L434.2,131.2 L433.9,132.0 L433.7,132.8 L433.4,133.7 L433.2,134.5 L432.9,135.3 L432.7,136.2 L432.4,137.0 L432.2,137.8 L431.9,138.7 L431.7,139.5 L431.5,140.3 L431.2,141.2 L431.0,142.0 L430.8,142.8 L430.6,143.7 L430.3,144.5 L430.1,145.3 L429.9,146.2 L429.7,147.0 L429.4,147.8 L429.2,148.7 L429.0,149.5 L428.8,150.3 L428.6,151.2 L428.4,152.0 L428.2,152.8 L427.9,153.7 L427.7,154.5 L427.5,155.3 L427.3,156.2 L427.1,157.0 L426.9,157.8 L426.7,158.7 L426.5,159.5 L426.3,160.4 L426.1,161.2 L425.9,162.0 L425.7,162.9 L425.5,163.7 L425.3,164.5 L425.1,165.4 L424.9,166.2 L424.7,167.0 L424.6,167.9 L424.4,168.7 L424.2,169.5 L424.0,170.4 L423.8,171.2 L423.6,172.0 L423.4,172.9 L423.2,173.7 L423.0,174.6 L422.9,175.4 L422.7,176.2 L422.5,177.1 L422.3,177.9 L422.1,178.7 L421.9,179.6 L421.7,180.4 L421.6,181.2 L421.4,182.1 L421.2,182.9 L421.0,183.8 L420.8,184.6 L420.6,185.4 L420.5,186.3 L420.3,187.1 L420.1,187.9 L419.9,188.8 L419.7,189.6 L419.6,190.4 L419.4,191.3 L419.2,192.1 L419.0,193.0 L418.8,193.8 L418.7,194.6 L418.5,195.5 L418.3,196.3 L418.1,197.1 L418.0,198.0 L417.8,198.8 L417.6,199.6 L417.4,200.5 L417.2,201.3 L417.1,202.2 L416.9,203.0 L416.7,203.8 L416.5,204.7 L416.3,205.5 L416.2,206.3 L416.0,207.2 L415.8,208.0 L415.6,208.8 L415.5,209.7 L415.3,210.5 L415.1,211.4 L414.9,212.2 L414.7,213.0 L414.5,213.9 L414.4,214.7 L414.2,215.5 L414.0,216.4 L413.8,217.2 L413.6,218.1 L413.5,218.9 L413.3,219.7 L413.1,220.6 L412.9,221.4 L412.7,222.2 L412.5,223.1 L412.4,223.9 L412.2,224.7 L412.0,225.6 L411.8,226.4 L411.6,227.2 L411.4,228.1 L411.2,228.9 L411.0,229.8 L410.8,230.6 L410.7,231.4 L410.5,232.3 L410.3,233.1 L410.1,233.9 L409.9,234.8 L409.7,235.6 L409.5,236.4 L409.3,237.3 L409.1,238.1 L408.9,238.9 L408.7,239.8 L408.5,240.6 L408.3,241.5 L408.1,242.3 L407.9,243.1 L407.7,244.0 L407.5,244.8 L407.3,245.6 L407.1,246.5 L406.9,247.3 L406.6,248.1 L406.4,249.0 L406.2,249.8 L406.0,250.6 L405.8,251.5 L405.6,252.3 L405.4,253.1 L405.1,254.0 L404.9,254.8 L404.7,255.6 L404.5,256.5 L404.2,257.3 L404.0,258.1 L403.8,259.0 L403.5,259.8 L403.3,260.6 L403.1,261.5 L402.8,262.3 L402.6,263.1 L402.3,264.0 L402.1,264.8 L401.8,265.6 L401.6,266.5 L401.3,267.3 L401.1,268.1 L400.8,268.9 L400.6,269.8 L400.3,270.6 L400.0,271.4 L399.8,272.3 L399.5,273.1 L399.2,273.9 L398.9,274.8 L398.6,275.6 L398.4,276.4 L398.1,277.2 L397.8,278.1 L397.5,278.9 L397.2,279.7 L396.9,280.5 L396.5,281.4 L396.2,282.2 L395.9,283.0 L395.6,283.9 L395.3,284.7 L394.9,285.5 L394.6,286.3 L394.2,287.2 L393.9,288.0 L393.5,288.8 L393.2,289.6 L392.8,290.4 L392.4,291.3 L392.0,292.1 L391.6,292.9 L391.2,293.7 L390.8,294.6 L390.4,295.4 L390.0,296.2 L389.6,297.0 L389.1,297.8 L388.7,298.6 L388.2,299.5 L387.7,300.3 L387.3,301.1 L386.8,301.9 L386.3,302.7 L385.7,303.5 L385.2,304.3 L384.7,305.1 L384.1,306.0 L383.5,306.8 L383.0,307.6 L382.4,308.4 L381.7,309.2 L381.1,310.0 L380.5,310.8 L379.8,311.6 L379.1,312.4 L378.4,313.2 L377.6,314.0 L376.9,314.8 L376.1,315.6 L375.3,316.4 L374.4,317.1 L373.5,317.9 L372.6,318.7 L371.7,319.5 L370.7,320.3 L369.7,321.0 L368.7,321.8 L367.6,322.6 L366.4,323.3 L365.3,324.1 L364.0,324.9 L362.7,325.6 L361.4,326.4 L360.0,327.1 L358.5,327.8 L356.9,328.6 L355.3,329.3 L353.6,330.0 L351.8,330.7 L349.9,331.4 L347.9,332.1 L345.8,332.8 L343.6,333.5 L341.3,334.1 L338.8,334.8 L336.2,335.4 L333.4,336.1 L330.5,336.7 L327.4,337.2 L324.1,337.8 L320.6,338.4 L317.0,338.9 L313.1,339.4 L309.0,339.9 L304.7,340.3 L300.1,340.7 L295.4,341.1 L290.4,341.5 L285.2,341.8 L279.8,342.0 L274.2,342.3 L268.5,342.4 L262.7,342.6 L256.7,342.7 L250.8,342.7 L244.8,342.7 L238.8,342.6 L233.0,342.5 L227.2,342.3 L221.6,342.1 L216.1,341.9 L210.8,341.6 L205.8,341.2 L200.9,340.9 L196.3,340.5 L191.9,340.0 L187.8,339.6 L183.8,339.1 L180.1,338.6 L176.5,338.0 L173.2,337.4 L170.0,336.9 L167.1,336.3 L164.2,335.6 L161.6,335.0 L159.1,334.4 L156.7,333.7 L154.4,333.0 L152.3,332.4 L150.2,331.7 L148.3,331.0 L146.5,330.3"/></g>
</g>
<rect x="80" y="40" width="640" height="320" fill="none" stroke="#707070" stroke-width="1.5"/>
<text x="75.2" y="47.2" text-anchor="end">90</text><text x="75.2" y="99.5" text-anchor="end">60</text><text x="75.2" y="151.9" text-anchor="end">30</text><text x="75.2" y="204.2" text-anchor="end">0</text><text x="75.2" y="256.5" text-anchor="end">-30</text><text x="75.2" y="308.9" text-anchor="end">-60</text><text x="75.2" y="361.2" text-anchor="end">-90</text>
<text x="86.0" y="368.7" text-anchor="middle">-180</text><text x="164.5" y="368.7" text-anchor="middle">-135</text><text x="243.0" y="368.7" text-anchor="middle">-90</text><text x="321.5" y="368.7" text-anchor="middle">-45</text><text x="400.0" y="368.7" text-anchor="middle">0</text><text x="478.5" y="368.7" text-anchor="middle">45</text><text x="557.0" y="368.7" text-anchor="middle">90</text><text x="635.5" y="368.7" text-anchor="middle">135</text><text x="714.0" y="368.7" text-anchor="middle">180</text>
<text x="175" y="31.9" letter-spacing="0.33">2009-08-16</text><text x="268" y="31.9">Version: 5.00</text><text x="366.8" y="31.9">Standard</text><text x="446.6" y="31.9">Nighttime Orbit Locations</text>
</svg>
</body></html>
